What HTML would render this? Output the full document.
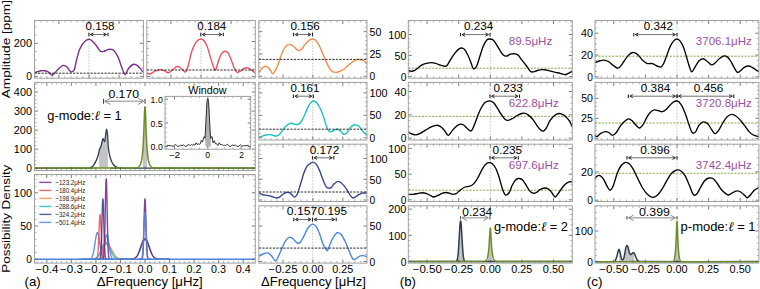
<!DOCTYPE html>
<html><head><meta charset="utf-8"><style>
html,body{margin:0;padding:0;background:#fff;width:760px;height:289px;overflow:hidden}
svg{display:block;font-family:"Liberation Sans",sans-serif}
</style></head><body>
<svg width="760" height="289" viewBox="0 0 760 289" font-family="Liberation Sans, sans-serif"><clipPath id="c1"><rect x="34.5" y="20.5" width="108.9" height="57.7"/></clipPath>
<path d="M89,20.5V78.2" stroke="#b8b8b8" stroke-width="0.8" stroke-dasharray="1.6,1.4" fill="none"/>
<path d="M34.7,72.6 C35.2,72.45 36.67,72 37.7,71.7 C38.73,71.4 39.78,70.97 40.9,70.8 C42.02,70.63 43.35,70.6 44.4,70.7 C45.45,70.8 46.27,70.95 47.2,71.4 C48.13,71.85 49.15,72.77 50,73.4 C50.85,74.03 51.45,75.33 52.3,75.2 C53.15,75.07 54.1,73.62 55.1,72.6 C56.1,71.58 57.32,70.08 58.3,69.1 C59.28,68.12 60.15,67.32 61,66.7 C61.85,66.08 62.6,65.48 63.4,65.4 C64.2,65.32 65.08,65.78 65.8,66.2 C66.52,66.62 67.12,67.22 67.7,67.9 C68.28,68.58 68.77,69.62 69.3,70.3 C69.83,70.98 70.37,71.82 70.9,72 C71.43,72.18 71.92,71.8 72.5,71.4 C73.08,71 73.73,71.48 74.4,69.6 C75.07,67.72 75.6,63.53 76.5,60.1 C77.4,56.67 78.5,52.03 79.8,49 C81.1,45.97 82.82,43.52 84.3,41.9 C85.78,40.28 87.42,39.48 88.7,39.3 C89.98,39.12 90.72,39.73 92,40.8 C93.28,41.87 95,43.97 96.4,45.7 C97.8,47.43 99.1,50.28 100.4,51.2 C101.7,52.12 102.83,51.5 104.2,51.2 C105.57,50.9 107.23,49.65 108.6,49.4 C109.97,49.15 111.28,49.22 112.4,49.7 C113.52,50.18 114.27,50.87 115.3,52.3 C116.33,53.73 117.5,55.72 118.6,58.3 C119.7,60.88 120.8,65.1 121.9,67.8 C123,70.5 124.1,74.38 125.2,74.5 C126.3,74.62 127.2,70.17 128.5,68.5 C129.8,66.83 131.7,65.1 133,64.5 C134.3,63.9 135.2,64.35 136.3,64.9 C137.4,65.45 138.45,66.57 139.6,67.8 C140.75,69.03 142.6,71.55 143.2,72.3" stroke="#7b2d8e" stroke-width="1.4" fill="none" stroke-linejoin="round" clip-path="url(#c1)"/>
<path d="M34.5,73.2H143.4" stroke="#222" stroke-width="0.95" stroke-dasharray="2.3,1.2" fill="none" clip-path="url(#c1)"/>
<path d="M34.82,78.2v-2M34.82,20.5v2M40.84,78.2v-2M40.84,20.5v2M46.86,78.2v-2M46.86,20.5v2M52.88,78.2v-2M52.88,20.5v2M64.92,78.2v-2M64.92,20.5v2M70.94,78.2v-2M70.94,20.5v2M76.96,78.2v-2M76.96,20.5v2M82.98,78.2v-2M82.98,20.5v2M95.02,78.2v-2M95.02,20.5v2M101.04,78.2v-2M101.04,20.5v2M107.06,78.2v-2M107.06,20.5v2M113.08,78.2v-2M113.08,20.5v2M125.12,78.2v-2M125.12,20.5v2M131.14,78.2v-2M131.14,20.5v2M137.16,78.2v-2M137.16,20.5v2M34.5,68.12h2M143.4,68.12h-2M34.5,59.85h2M143.4,59.85h-2M34.5,51.58h2M143.4,51.58h-2M34.5,35.03h2M143.4,35.03h-2M34.5,26.75h2M143.4,26.75h-2" stroke="#5a5a5a" stroke-width="0.6" fill="none" opacity="0.8"/>
<path d="M58.9,78.2v-3.5M58.9,20.5v3.5M89,78.2v-3.5M89,20.5v3.5M119.1,78.2v-3.5M119.1,20.5v3.5M34.5,76.4h3.5M143.4,76.4h-3.5M34.5,43.3h3.5M143.4,43.3h-3.5" stroke="#5a5a5a" stroke-width="0.8" fill="none"/>
<rect x="34.5" y="20.5" width="108.9" height="57.7" fill="none" stroke="#a0a0a0" stroke-width="1"/>
<path d="M88.9,32.8V36.2M108,32.8V36.2" stroke="#222" stroke-width="1.1" fill="none"/>
<path d="M90.5,34.5H106.4" stroke="#333" stroke-width="0.7" fill="none"/>
<path d="M93.4,32.95L90.5,34.5L93.4,36.05M103.5,32.95L106.4,34.5L103.5,36.05" stroke="#222" stroke-width="1.0" fill="none" stroke-linejoin="miter"/>
<text x="85.55" y="29.85" font-size="10.6" textLength="28.95" lengthAdjust="spacingAndGlyphs" fill="#000">0.158</text>
<clipPath id="c2"><rect x="146.8" y="20.5" width="108.5" height="57.7"/></clipPath>
<path d="M201,20.5V78.2" stroke="#b8b8b8" stroke-width="0.8" stroke-dasharray="1.6,1.4" fill="none"/>
<path d="M146.9,72.8 C147.38,73 148.58,74.2 149.8,74 C151.02,73.8 152.55,72.33 154.2,71.6 C155.85,70.87 158.05,69.75 159.7,69.6 C161.35,69.45 162.62,70.18 164.1,70.7 C165.58,71.22 167.12,72.92 168.6,72.7 C170.08,72.48 171.72,70.4 173,69.4 C174.28,68.4 175.2,67.07 176.3,66.7 C177.4,66.33 178.48,66.65 179.6,67.2 C180.72,67.75 181.97,69.23 183,70 C184.03,70.77 184.88,72.72 185.8,71.8 C186.72,70.88 187.5,67.93 188.5,64.5 C189.5,61.07 190.5,54.97 191.8,51.2 C193.1,47.43 194.82,43.93 196.3,41.9 C197.78,39.87 199.42,39.18 200.7,39 C201.98,38.82 202.9,39.5 204,40.8 C205.1,42.1 206.2,43.95 207.3,46.8 C208.4,49.65 209.6,54.65 210.6,57.9 C211.6,61.15 212.48,64.28 213.3,66.3 C214.12,68.32 214.65,70.85 215.5,70 C216.35,69.15 217.37,63.97 218.4,61.2 C219.43,58.43 220.48,55.07 221.7,53.4 C222.92,51.73 224.58,51.2 225.7,51.2 C226.82,51.2 227.4,51.73 228.4,53.4 C229.4,55.07 230.67,58.62 231.7,61.2 C232.73,63.78 233.68,67.05 234.6,68.9 C235.52,70.75 236.22,71.93 237.2,72.3 C238.18,72.67 239.38,71.73 240.5,71.1 C241.62,70.47 242.78,69.05 243.9,68.5 C245.02,67.95 246.1,67.65 247.2,67.8 C248.3,67.95 249.17,68.55 250.5,69.4 C251.83,70.25 254.42,72.32 255.2,72.9" stroke="#f0505f" stroke-width="1.4" fill="none" stroke-linejoin="round" clip-path="url(#c2)"/>
<path d="M146.8,70H255.3" stroke="#222" stroke-width="0.95" stroke-dasharray="2.3,1.2" fill="none" clip-path="url(#c2)"/>
<path d="M152.89,78.2v-2M152.89,20.5v2M158.91,78.2v-2M158.91,20.5v2M164.93,78.2v-2M164.93,20.5v2M176.97,78.2v-2M176.97,20.5v2M182.99,78.2v-2M182.99,20.5v2M189.01,78.2v-2M189.01,20.5v2M195.03,78.2v-2M195.03,20.5v2M207.07,78.2v-2M207.07,20.5v2M213.09,78.2v-2M213.09,20.5v2M219.11,78.2v-2M219.11,20.5v2M225.13,78.2v-2M225.13,20.5v2M237.17,78.2v-2M237.17,20.5v2M243.19,78.2v-2M243.19,20.5v2M249.21,78.2v-2M249.21,20.5v2M146.8,69.42h2M255.3,69.42h-2M146.8,62.44h2M255.3,62.44h-2M146.8,55.46h2M255.3,55.46h-2M146.8,48.48h2M255.3,48.48h-2M146.8,34.52h2M255.3,34.52h-2M146.8,27.54h2M255.3,27.54h-2" stroke="#5a5a5a" stroke-width="0.6" fill="none" opacity="0.8"/>
<path d="M170.95,78.2v-3.5M170.95,20.5v3.5M201.05,78.2v-3.5M201.05,20.5v3.5M231.15,78.2v-3.5M231.15,20.5v3.5M146.8,76.4h3.5M255.3,76.4h-3.5M146.8,41.5h3.5M255.3,41.5h-3.5" stroke="#5a5a5a" stroke-width="0.8" fill="none"/>
<rect x="146.8" y="20.5" width="108.5" height="57.7" fill="none" stroke="#a0a0a0" stroke-width="1"/>
<path d="M200.8,32.8V36.2M223.3,32.8V36.2" stroke="#222" stroke-width="1.1" fill="none"/>
<path d="M202.4,34.5H221.7" stroke="#333" stroke-width="0.7" fill="none"/>
<path d="M205.3,32.95L202.4,34.5L205.3,36.05M218.8,32.95L221.7,34.5L218.8,36.05" stroke="#222" stroke-width="1.0" fill="none" stroke-linejoin="miter"/>
<text x="197.35" y="29.85" font-size="10.6" textLength="28.89" lengthAdjust="spacingAndGlyphs" fill="#000">0.184</text>
<text x="13.81" y="47.37" font-size="10.1" textLength="18.17" lengthAdjust="spacingAndGlyphs" fill="#000">200</text>
<text x="26.26" y="80.47" font-size="10.1" textLength="5.7" lengthAdjust="spacingAndGlyphs" fill="#000">0</text>
<clipPath id="c3"><rect x="34.5" y="82.4" width="220.8" height="88.1"/></clipPath>
<path d="M99.2,168.1L99,152.1L99.25,150.97L99.5,150.09L99.75,149.57L100,149.06L100.25,148.54L100.5,148.02L100.75,147.5L101,146.6L101.25,145.6L101.5,144.6L101.75,143.6L102,142.6L102.25,141.7L102.5,140.87L102.75,140.03L103,139.2L103.25,139.73L103.5,140.26L103.75,140.78L104,141.18L104.25,141.37L104.5,141.57L104.75,141.76L105,140.29L105.25,138.4L105.5,136.51L105.75,134.71L106,133.27L106.25,131.82L106.5,130.38L106.75,130.67L107,132.11L107.25,133.56L107.5,135L107.75,138.78L107.9,168.1Z" fill="#c4c4c4"/>
<path d="M142.9,168.1L143,147.99L143.2,144.87L143.4,141.22L143.6,136.98L143.8,132.15L144,126.8L144.2,121.14L144.4,115.6L144.6,110.8L144.8,107.49L145,106.3L145.2,107.49L145.4,110.8L145.6,115.6L145.8,121.14L146,126.8L146.2,132.15L146.4,136.98L146.6,141.22L146.8,144.87L147,147.99L147.1,168.1Z" fill="#c4c4c4"/>
<path d="M34.5,168.1 C43.42,168.1 78.68,168.17 88,168.1 C97.32,168.03 89.55,168.07 90.4,167.7 C91.25,167.33 92.2,166.95 93.1,165.9 C94,164.85 94.98,163.05 95.8,161.4 C96.62,159.75 97.4,157.95 98,156 C98.6,154.05 98.93,151.23 99.4,149.7 C99.87,148.17 100.35,148.15 100.8,146.8 C101.25,145.45 101.73,142.97 102.1,141.6 C102.47,140.23 102.7,138.78 103,138.6 C103.3,138.42 103.6,140.07 103.9,140.5 C104.2,140.93 104.5,142.22 104.8,141.2 C105.1,140.18 105.4,136.4 105.7,134.4 C106,132.4 106.3,129.2 106.6,129.2 C106.9,129.2 107.2,131.27 107.5,134.4 C107.8,137.53 108.02,144.4 108.4,148 C108.78,151.6 109.27,153.77 109.8,156 C110.33,158.23 110.93,159.9 111.6,161.4 C112.27,162.9 112.98,164.05 113.8,165 C114.62,165.95 115.6,166.62 116.5,167.1 C117.4,167.58 118.28,167.73 119.2,167.9 C120.12,168.07 99.32,168.07 122,168.1 C144.68,168.13 233.08,168.1 255.3,168.1" stroke="#2c3e50" stroke-width="1.3" fill="none" stroke-linejoin="round" clip-path="url(#c3)"/>
<path d="M34.5,168.1 L34.5,168.1 L136,168.1 L136.2,168.1 L136.4,168.1 L136.6,168.06 L136.8,167.97 L137,167.88 L137.2,167.77 L137.4,167.66 L137.6,167.55 L137.8,167.42 L138,167.28 L138.2,167.13 L138.4,166.97 L138.6,166.79 L138.8,166.6 L139,166.39 L139.2,166.16 L139.4,165.9 L139.6,165.62 L139.8,165.31 L140,164.96 L140.2,164.58 L140.4,164.15 L140.6,163.67 L140.8,163.13 L141,162.51 L141.2,161.82 L141.4,161.02 L141.6,160.11 L141.8,159.06 L142,157.85 L142.2,156.45 L142.4,154.81 L142.6,152.89 L142.8,150.64 L143,147.99 L143.2,144.87 L143.4,141.22 L143.6,136.98 L143.8,132.15 L144,126.8 L144.2,121.14 L144.4,115.6 L144.6,110.8 L144.8,107.49 L145,106.3 L145.2,107.49 L145.4,110.8 L145.6,115.6 L145.8,121.14 L146,126.8 L146.2,132.15 L146.4,136.98 L146.6,141.22 L146.8,144.87 L147,147.99 L147.2,150.64 L147.4,152.89 L147.6,154.81 L147.8,156.45 L148,157.85 L148.2,159.06 L148.4,160.11 L148.6,161.02 L148.8,161.82 L149,162.51 L149.2,163.13 L149.4,163.67 L149.6,164.15 L149.8,164.58 L150,164.96 L150.2,165.31 L150.4,165.62 L150.6,165.9 L150.8,166.16 L151,166.39 L151.2,166.6 L151.4,166.79 L151.6,166.97 L151.8,167.13 L152,167.28 L152.2,167.42 L152.4,167.55 L152.6,167.66 L152.8,167.77 L153,167.88 L153.2,167.97 L153.4,168.06 L153.6,168.1 L153.8,168.1 L154,168.1 L255.3,168.1" stroke="#6b8e23" stroke-width="1.5" fill="none" clip-path="url(#c3)"/>
<path d="M36.98,170.5v-2M36.98,82.4v2M41.89,170.5v-2M41.89,82.4v2M51.71,170.5v-2M51.71,82.4v2M56.62,170.5v-2M56.62,82.4v2M61.53,170.5v-2M61.53,82.4v2M66.44,170.5v-2M66.44,82.4v2M76.26,170.5v-2M76.26,82.4v2M81.17,170.5v-2M81.17,82.4v2M86.08,170.5v-2M86.08,82.4v2M90.99,170.5v-2M90.99,82.4v2M100.81,170.5v-2M100.81,82.4v2M105.72,170.5v-2M105.72,82.4v2M110.63,170.5v-2M110.63,82.4v2M115.54,170.5v-2M115.54,82.4v2M125.36,170.5v-2M125.36,82.4v2M130.27,170.5v-2M130.27,82.4v2M135.18,170.5v-2M135.18,82.4v2M140.09,170.5v-2M140.09,82.4v2M149.91,170.5v-2M149.91,82.4v2M154.82,170.5v-2M154.82,82.4v2M159.73,170.5v-2M159.73,82.4v2M164.64,170.5v-2M164.64,82.4v2M174.46,170.5v-2M174.46,82.4v2M179.37,170.5v-2M179.37,82.4v2M184.28,170.5v-2M184.28,82.4v2M189.19,170.5v-2M189.19,82.4v2M199.01,170.5v-2M199.01,82.4v2M203.92,170.5v-2M203.92,82.4v2M208.83,170.5v-2M208.83,82.4v2M213.74,170.5v-2M213.74,82.4v2M223.56,170.5v-2M223.56,82.4v2M228.47,170.5v-2M228.47,82.4v2M233.38,170.5v-2M233.38,82.4v2M238.29,170.5v-2M238.29,82.4v2M248.11,170.5v-2M248.11,82.4v2M253.02,170.5v-2M253.02,82.4v2M34.5,164.44h2M255.3,164.44h-2M34.5,160.63h2M255.3,160.63h-2M34.5,156.81h2M255.3,156.81h-2M34.5,153h2M255.3,153h-2M34.5,145.38h2M255.3,145.38h-2M34.5,141.57h2M255.3,141.57h-2M34.5,137.75h2M255.3,137.75h-2M34.5,133.94h2M255.3,133.94h-2M34.5,126.32h2M255.3,126.32h-2M34.5,122.51h2M255.3,122.51h-2M34.5,118.69h2M255.3,118.69h-2M34.5,114.88h2M255.3,114.88h-2M34.5,107.26h2M255.3,107.26h-2M34.5,103.45h2M255.3,103.45h-2M34.5,99.63h2M255.3,99.63h-2M34.5,95.82h2M255.3,95.82h-2M34.5,88.2h2M255.3,88.2h-2M34.5,84.39h2M255.3,84.39h-2" stroke="#5a5a5a" stroke-width="0.6" fill="none" opacity="0.8"/>
<path d="M46.8,170.5v-3.5M46.8,82.4v3.5M71.35,170.5v-3.5M71.35,82.4v3.5M95.9,170.5v-3.5M95.9,82.4v3.5M120.45,170.5v-3.5M120.45,82.4v3.5M145,170.5v-3.5M145,82.4v3.5M169.55,170.5v-3.5M169.55,82.4v3.5M194.1,170.5v-3.5M194.1,82.4v3.5M218.65,170.5v-3.5M218.65,82.4v3.5M243.2,170.5v-3.5M243.2,82.4v3.5M34.5,168.25h3.5M255.3,168.25h-3.5M34.5,149.19h3.5M255.3,149.19h-3.5M34.5,130.13h3.5M255.3,130.13h-3.5M34.5,111.07h3.5M255.3,111.07h-3.5M34.5,92.01h3.5M255.3,92.01h-3.5" stroke="#5a5a5a" stroke-width="0.8" fill="none"/>
<rect x="34.5" y="82.4" width="220.8" height="88.1" fill="none" stroke="#a0a0a0" stroke-width="1"/>
<text x="13.87" y="96.07" font-size="10.1" textLength="18.11" lengthAdjust="spacingAndGlyphs" fill="#000">400</text>
<text x="13.98" y="114.97" font-size="10.1" textLength="18" lengthAdjust="spacingAndGlyphs" fill="#000">300</text>
<text x="13.81" y="133.67" font-size="10.1" textLength="18.17" lengthAdjust="spacingAndGlyphs" fill="#000">200</text>
<text x="13.89" y="152.57" font-size="10.1" textLength="18.09" lengthAdjust="spacingAndGlyphs" fill="#000">100</text>
<text x="26.26" y="172.37" font-size="10.1" textLength="5.7" lengthAdjust="spacingAndGlyphs" fill="#000">0</text>
<path d="M103.6,98.8V103.8M145,98.8V103.8" stroke="#333" stroke-width="1.0" fill="none"/>
<path d="M104.9,101.3H143.7" stroke="#b0b0b0" stroke-width="1.4" fill="none"/>
<path d="M110.4,98.2L104.9,101.3L110.4,104.4M138.2,98.2L143.7,101.3L138.2,104.4" stroke="#7a7a7a" stroke-width="0.9" fill="none"/>
<text x="108.42" y="97.55" font-size="11.2" textLength="30.66" lengthAdjust="spacingAndGlyphs" fill="#000">0.170</text>
<text x="47.3" y="120.2" font-size="13.2" textLength="74.5" lengthAdjust="spacingAndGlyphs">g-mode:<tspan font-family="Liberation Serif" font-style="italic">ℓ</tspan> = 1</text>
<rect x="165.0" y="96.4" width="85.7" height="52.8" fill="#fff"/>
<clipPath id="c4"><rect x="165" y="96.4" width="85.7" height="52.8"/></clipPath>
<path d="M205.5,146.6L205,138.2L205.3,133.5L205.7,126L206.1,117.5L206.5,109.5L206.9,103L207.3,99.6L207.7,98.6L208.1,99L208.5,101.5L208.9,107L209.3,114.5L209.7,123L210.1,130.5L210.5,136L210.8,138.5L210.8,146.6Z" fill="#b0b0b0" clip-path="url(#c4)"/>
<path d="M165,146.6 L166.1,146.3 L167.5,145.4 L168.8,145.6 L170.2,145.6 L171.6,145.8 L173.3,146.3 L174,145.4 L175.4,144.7 L176.8,145.6 L177.8,146.5 L179.2,146 L180.6,145.2 L182,145.6 L183.4,144.9 L184.7,145.8 L186.1,146.5 L187.2,145.9 L188.3,144.2 L189.6,145.1 L190.6,145.4 L191.7,144.5 L192.7,145.4 L193.7,144.2 L194.8,145.2 L196.2,142.8 L197.2,144.5 L198.2,143.8 L199.3,144.4 L200.3,143.8 L201.3,140.4 L202.4,142.1 L203.4,139 L204.1,136.6 L204.8,137.6 L205,138.2 L205.3,133.5 L205.7,126 L206.1,117.5 L206.5,109.5 L206.9,103 L207.3,99.6 L207.7,98.6 L208.1,99 L208.5,101.5 L208.9,107 L209.3,114.5 L209.7,123 L210.1,130.5 L210.5,136 L210.8,138.5 L211.2,137.3 L212.1,136.6 L213,142.8 L214.3,140.7 L215.4,143.8 L216.4,143.5 L217.8,145.6 L219.2,142.8 L220.6,144.9 L221.9,144.2 L223.3,145.6 L224.7,145.2 L225.7,145.6 L227.5,144.2 L229.6,146.6 L230.9,146.3 L232.3,144.9 L234,145.6 L235.4,145.1 L236.8,146.3 L238.5,146.5 L240.3,144.7 L242,146.3 L243.7,145.6 L245.8,145.8 L247.9,145.4 L249.6,146.6 L251,146.3" stroke="#1a1a1a" stroke-width="0.9" fill="none" stroke-linejoin="round" clip-path="url(#c4)"/>
<path d="M166.18,149.2v-1.7M166.18,96.4v1.7M182.83,149.2v-1.7M182.83,96.4v1.7M191.15,149.2v-1.7M191.15,96.4v1.7M199.48,149.2v-1.7M199.48,96.4v1.7M216.12,149.2v-1.7M216.12,96.4v1.7M224.45,149.2v-1.7M224.45,96.4v1.7M232.78,149.2v-1.7M232.78,96.4v1.7M249.43,149.2v-1.7M249.43,96.4v1.7M165,141.87h1.7M250.7,141.87h-1.7M165,137.14h1.7M250.7,137.14h-1.7M165,132.41h1.7M250.7,132.41h-1.7M165,127.68h1.7M250.7,127.68h-1.7M165,118.22h1.7M250.7,118.22h-1.7M165,113.49h1.7M250.7,113.49h-1.7M165,108.76h1.7M250.7,108.76h-1.7M165,104.03h1.7M250.7,104.03h-1.7" stroke="#5a5a5a" stroke-width="0.6" fill="none" opacity="0.8"/>
<path d="M174.5,149.2v-3M174.5,96.4v3M207.8,149.2v-3M207.8,96.4v3M241.1,149.2v-3M241.1,96.4v3M165,146.6h3M250.7,146.6h-3M165,122.95h3M250.7,122.95h-3M165,99.3h3M250.7,99.3h-3" stroke="#5a5a5a" stroke-width="0.8" fill="none"/>
<rect x="165" y="96.4" width="85.7" height="52.8" fill="none" stroke="#a0a0a0" stroke-width="1"/>
<text x="150.64" y="102.66" font-size="8.3" textLength="12.18" lengthAdjust="spacingAndGlyphs" fill="#000">1.0</text>
<text x="150.62" y="126.56" font-size="8.3" textLength="12.06" lengthAdjust="spacingAndGlyphs" fill="#000">0.5</text>
<text x="150.61" y="150.16" font-size="8.3" textLength="12.2" lengthAdjust="spacingAndGlyphs" fill="#000">0.0</text>
<text x="168.66" y="158.23" font-size="8.8" textLength="11.53" lengthAdjust="spacingAndGlyphs" fill="#000">−2</text>
<text x="205.36" y="158.23" font-size="8.8" textLength="4.87" lengthAdjust="spacingAndGlyphs" fill="#000">0</text>
<text x="239.14" y="158.23" font-size="8.8" textLength="4.69" lengthAdjust="spacingAndGlyphs" fill="#000">2</text>
<text x="188.35" y="93.58" font-size="10.4" textLength="38.14" lengthAdjust="spacingAndGlyphs" fill="#000">Window</text>
<clipPath id="c5"><rect x="34.5" y="174.5" width="220.8" height="88.6"/></clipPath>
<path d="M77.4,259.3 L77.6,259.3 L77.8,259.3 L78,259.3 L78.2,259.3 L78.4,259.3 L78.6,259.3 L78.8,259.3 L79,259.3 L79.2,259.3 L79.4,259.3 L79.6,259.3 L79.8,259.3 L80,259.3 L80.2,259.3 L80.4,259.3 L80.6,259.3 L80.8,259.3 L81,259.3 L81.2,259.3 L81.4,259.3 L81.6,259.3 L81.8,259.3 L82,259.3 L82.2,259.3 L82.4,259.3 L82.6,259.3 L82.8,259.3 L83,259.3 L83.2,259.3 L83.4,259.3 L83.6,259.3 L83.8,259.3 L84,259.3 L84.2,259.3 L84.4,259.3 L84.6,259.3 L84.8,259.3 L85,259.3 L85.2,259.3 L85.4,259.3 L85.6,259.3 L85.8,259.3 L86,259.3 L86.2,259.3 L86.4,259.3 L86.6,259.3 L86.8,259.3 L87,259.3 L87.2,259.29 L87.4,259.29 L87.6,259.29 L87.8,259.29 L88,259.29 L88.2,259.29 L88.4,259.29 L88.6,259.28 L88.8,259.28 L89,259.28 L89.2,259.28 L89.4,259.27 L89.6,259.27 L89.8,259.26 L90,259.26 L90.2,259.25 L90.4,259.24 L90.6,259.23 L90.8,259.23 L91,259.21 L91.2,259.2 L91.4,259.19 L91.6,259.17 L91.8,259.16 L92,259.14 L92.2,259.12 L92.4,259.09 L92.6,259.07 L92.8,259.04 L93,259.01 L93.2,258.97 L93.4,258.93 L93.6,258.89 L93.8,258.84 L94,258.79 L94.2,258.73 L94.4,258.67 L94.6,258.6 L94.8,258.53 L95,258.45 L95.2,258.36 L95.4,258.26 L95.6,258.16 L95.8,258.05 L96,257.93 L96.2,257.81 L96.4,257.67 L96.6,257.52 L96.8,257.37 L97,257.2 L97.2,257.03 L97.4,256.84 L97.6,256.64 L97.8,256.43 L98,256.21 L98.2,255.98 L98.4,255.73 L98.6,255.48 L98.8,255.21 L99,254.93 L99.2,254.64 L99.4,254.34 L99.6,254.03 L99.8,253.71 L100,253.38 L100.2,253.04 L100.4,252.69 L100.6,252.34 L100.8,251.98 L101,251.61 L101.2,251.23 L101.4,250.85 L101.6,250.47 L101.8,250.09 L102,249.71 L102.2,249.32 L102.4,248.94 L102.6,248.57 L102.8,248.19 L103,247.83 L103.2,247.47 L103.4,247.12 L103.6,246.78 L103.8,246.45 L104,246.13 L104.2,245.84 L104.4,245.55 L104.6,245.29 L104.8,245.04 L105,244.81 L105.2,244.6 L105.4,244.42 L105.6,244.26 L105.8,244.12 L106,244.01 L106.2,243.92 L106.4,243.85 L106.6,243.81 L106.8,243.8 L107,243.81 L107.2,243.85 L107.4,243.92 L107.6,244.01 L107.8,244.12 L108,244.26 L108.2,244.42 L108.4,244.6 L108.6,244.81 L108.8,245.04 L109,245.29 L109.2,245.55 L109.4,245.84 L109.6,246.13 L109.8,246.45 L110,246.78 L110.2,247.12 L110.4,247.47 L110.6,247.83 L110.8,248.19 L111,248.57 L111.2,248.94 L111.4,249.32 L111.6,249.71 L111.8,250.09 L112,250.47 L112.2,250.85 L112.4,251.23 L112.6,251.61 L112.8,251.98 L113,252.34 L113.2,252.69 L113.4,253.04 L113.6,253.38 L113.8,253.71 L114,254.03 L114.2,254.34 L114.4,254.64 L114.6,254.93 L114.8,255.21 L115,255.48 L115.2,255.73 L115.4,255.98 L115.6,256.21 L115.8,256.43 L116,256.64 L116.2,256.84 L116.4,257.03 L116.6,257.2 L116.8,257.37 L117,257.52 L117.2,257.67 L117.4,257.81 L117.6,257.93 L117.8,258.05 L118,258.16 L118.2,258.26 L118.4,258.36 L118.6,258.45 L118.8,258.53 L119,258.6 L119.2,258.67 L119.4,258.73 L119.6,258.79 L119.8,258.84 L120,258.89 L120.2,258.93 L120.4,258.97 L120.6,259.01 L120.8,259.04 L121,259.07 L121.2,259.09 L121.4,259.12 L121.6,259.14 L121.8,259.16 L122,259.17 L122.2,259.19 L122.4,259.2 L122.6,259.21 L122.8,259.23 L123,259.23 L123.2,259.24 L123.4,259.25 L123.6,259.26 L123.8,259.26 L124,259.27 L124.2,259.27 L124.4,259.28 L124.6,259.28 L124.8,259.28 L125,259.28 L125.2,259.29 L125.4,259.29 L125.6,259.29 L125.8,259.29 L126,259.29 L126.2,259.29 L126.4,259.29 L126.6,259.3 L126.8,259.3 L127,259.3 L127.2,259.3 L127.4,259.3 L127.6,259.3 L127.8,259.3 L128,259.3 L128.2,259.3 L128.4,259.3 L128.6,259.3 L128.8,259.3 L129,259.3 L129.2,259.3 L129.4,259.3 L129.6,259.3 L129.8,259.3 L130,259.3 L130.2,259.3 L130.4,259.3 L130.6,259.3 L130.8,259.3 L131,259.3 L131.2,259.3 L131.4,259.3 L131.6,259.3 L131.8,259.3 L132,259.3 L132.2,259.3 L132.4,259.3 L132.6,259.3 L132.8,259.3 L133,259.3 L133.2,259.3 L133.4,259.3 L133.6,259.3 L133.8,259.3 L134,259.3 L134.2,259.3 L134.4,259.3 L134.6,259.3 L134.8,259.3 L135,259.3 L135.2,259.3 L135.4,259.3 L135.6,259.3 L135.8,259.3 L136,259.3 L136.2,259.3" stroke="#f78a4a" stroke-width="1.4" fill="none" stroke-linejoin="round" opacity="0.9" clip-path="url(#c5)"/>
<path d="M80.1,259.3 L80.3,259.3 L80.5,259.3 L80.7,259.3 L80.9,259.3 L81.1,259.3 L81.3,259.3 L81.5,259.3 L81.7,259.3 L81.9,259.3 L82.1,259.3 L82.3,259.3 L82.5,259.3 L82.7,259.3 L82.9,259.3 L83.1,259.3 L83.3,259.3 L83.5,259.3 L83.7,259.3 L83.9,259.3 L84.1,259.3 L84.3,259.3 L84.5,259.3 L84.7,259.3 L84.9,259.3 L85.1,259.3 L85.3,259.3 L85.5,259.3 L85.7,259.3 L85.9,259.3 L86.1,259.3 L86.3,259.3 L86.5,259.3 L86.7,259.3 L86.9,259.3 L87.1,259.3 L87.3,259.3 L87.5,259.3 L87.7,259.3 L87.9,259.3 L88.1,259.3 L88.3,259.3 L88.5,259.3 L88.7,259.29 L88.9,259.29 L89.1,259.29 L89.3,259.29 L89.5,259.29 L89.7,259.29 L89.9,259.28 L90.1,259.28 L90.3,259.28 L90.5,259.27 L90.7,259.27 L90.9,259.26 L91.1,259.26 L91.3,259.25 L91.5,259.24 L91.7,259.23 L91.9,259.22 L92.1,259.2 L92.3,259.19 L92.5,259.17 L92.7,259.15 L92.9,259.13 L93.1,259.1 L93.3,259.07 L93.5,259.04 L93.7,259 L93.9,258.96 L94.1,258.91 L94.3,258.86 L94.5,258.8 L94.7,258.74 L94.9,258.67 L95.1,258.59 L95.3,258.5 L95.5,258.4 L95.7,258.3 L95.9,258.18 L96.1,258.06 L96.3,257.92 L96.5,257.77 L96.7,257.61 L96.9,257.43 L97.1,257.24 L97.3,257.04 L97.5,256.82 L97.7,256.59 L97.9,256.34 L98.1,256.08 L98.3,255.8 L98.5,255.5 L98.7,255.19 L98.9,254.86 L99.1,254.52 L99.3,254.16 L99.5,253.78 L99.7,253.39 L99.9,252.99 L100.1,252.58 L100.3,252.15 L100.5,251.71 L100.7,251.26 L100.9,250.81 L101.1,250.34 L101.3,249.88 L101.5,249.41 L101.7,248.94 L101.9,248.47 L102.1,248 L102.3,247.54 L102.5,247.08 L102.7,246.64 L102.9,246.21 L103.1,245.79 L103.3,245.39 L103.5,245.01 L103.7,244.65 L103.9,244.31 L104.1,244 L104.3,243.72 L104.5,243.46 L104.7,243.24 L104.9,243.05 L105.1,242.89 L105.3,242.76 L105.5,242.67 L105.7,242.62 L105.9,242.6 L106.1,242.62 L106.3,242.67 L106.5,242.76 L106.7,242.89 L106.9,243.05 L107.1,243.24 L107.3,243.46 L107.5,243.72 L107.7,244 L107.9,244.31 L108.1,244.65 L108.3,245.01 L108.5,245.39 L108.7,245.79 L108.9,246.21 L109.1,246.64 L109.3,247.08 L109.5,247.54 L109.7,248 L109.9,248.47 L110.1,248.94 L110.3,249.41 L110.5,249.88 L110.7,250.34 L110.9,250.81 L111.1,251.26 L111.3,251.71 L111.5,252.15 L111.7,252.58 L111.9,252.99 L112.1,253.39 L112.3,253.78 L112.5,254.16 L112.7,254.52 L112.9,254.86 L113.1,255.19 L113.3,255.5 L113.5,255.8 L113.7,256.08 L113.9,256.34 L114.1,256.59 L114.3,256.82 L114.5,257.04 L114.7,257.24 L114.9,257.43 L115.1,257.61 L115.3,257.77 L115.5,257.92 L115.7,258.06 L115.9,258.18 L116.1,258.3 L116.3,258.4 L116.5,258.5 L116.7,258.59 L116.9,258.67 L117.1,258.74 L117.3,258.8 L117.5,258.86 L117.7,258.91 L117.9,258.96 L118.1,259 L118.3,259.04 L118.5,259.07 L118.7,259.1 L118.9,259.13 L119.1,259.15 L119.3,259.17 L119.5,259.19 L119.7,259.2 L119.9,259.22 L120.1,259.23 L120.3,259.24 L120.5,259.25 L120.7,259.26 L120.9,259.26 L121.1,259.27 L121.3,259.27 L121.5,259.28 L121.7,259.28 L121.9,259.28 L122.1,259.29 L122.3,259.29 L122.5,259.29 L122.7,259.29 L122.9,259.29 L123.1,259.29 L123.3,259.3 L123.5,259.3 L123.7,259.3 L123.9,259.3 L124.1,259.3 L124.3,259.3 L124.5,259.3 L124.7,259.3 L124.9,259.3 L125.1,259.3 L125.3,259.3 L125.5,259.3 L125.7,259.3 L125.9,259.3 L126.1,259.3 L126.3,259.3 L126.5,259.3 L126.7,259.3 L126.9,259.3 L127.1,259.3 L127.3,259.3 L127.5,259.3 L127.7,259.3 L127.9,259.3 L128.1,259.3 L128.3,259.3 L128.5,259.3 L128.7,259.3 L128.9,259.3 L129.1,259.3 L129.3,259.3 L129.5,259.3 L129.7,259.3 L129.9,259.3 L130.1,259.3 L130.3,259.3 L130.5,259.3 L130.7,259.3 L130.9,259.3 L131.1,259.3 L131.3,259.3 L131.5,259.3 L131.7,259.3" stroke="#1ec0c4" stroke-width="1.4" fill="none" stroke-linejoin="round" opacity="0.9" clip-path="url(#c5)"/>
<path d="M119.8,259.3 L120,259.3 L120.2,259.3 L120.4,259.3 L120.6,259.3 L120.8,259.3 L121,259.3 L121.2,259.3 L121.4,259.3 L121.6,259.3 L121.8,259.3 L122,259.3 L122.2,259.3 L122.4,259.3 L122.6,259.3 L122.8,259.3 L123,259.3 L123.2,259.3 L123.4,259.3 L123.6,259.3 L123.8,259.3 L124,259.3 L124.2,259.3 L124.4,259.3 L124.6,259.3 L124.8,259.3 L125,259.3 L125.2,259.3 L125.4,259.3 L125.6,259.3 L125.8,259.3 L126,259.3 L126.2,259.3 L126.4,259.3 L126.6,259.3 L126.8,259.3 L127,259.3 L127.2,259.3 L127.4,259.3 L127.6,259.3 L127.8,259.3 L128,259.29 L128.2,259.29 L128.4,259.29 L128.6,259.29 L128.8,259.29 L129,259.29 L129.2,259.28 L129.4,259.28 L129.6,259.27 L129.8,259.27 L130,259.26 L130.2,259.26 L130.4,259.25 L130.6,259.24 L130.8,259.23 L131,259.22 L131.2,259.21 L131.4,259.19 L131.6,259.17 L131.8,259.15 L132,259.13 L132.2,259.1 L132.4,259.07 L132.6,259.03 L132.8,258.99 L133,258.95 L133.2,258.9 L133.4,258.84 L133.6,258.77 L133.8,258.7 L134,258.62 L134.2,258.53 L134.4,258.44 L134.6,258.33 L134.8,258.2 L135,258.07 L135.2,257.93 L135.4,257.77 L135.6,257.59 L135.8,257.4 L136,257.2 L136.2,256.97 L136.4,256.73 L136.6,256.47 L136.8,256.19 L137,255.89 L137.2,255.57 L137.4,255.23 L137.6,254.87 L137.8,254.49 L138,254.09 L138.2,253.66 L138.4,253.22 L138.6,252.75 L138.8,252.27 L139,251.77 L139.2,251.25 L139.4,250.71 L139.6,250.15 L139.8,249.59 L140,249.01 L140.2,248.42 L140.4,247.83 L140.6,247.23 L140.8,246.62 L141,246.02 L141.2,245.42 L141.4,244.83 L141.6,244.24 L141.8,243.67 L142,243.11 L142.2,242.56 L142.4,242.04 L142.6,241.55 L142.8,241.08 L143,240.64 L143.2,240.23 L143.4,239.86 L143.6,239.53 L143.8,239.24 L144,238.98 L144.2,238.78 L144.4,238.61 L144.6,238.49 L144.8,238.42 L145,238.4 L145.2,238.42 L145.4,238.49 L145.6,238.61 L145.8,238.78 L146,238.98 L146.2,239.24 L146.4,239.53 L146.6,239.86 L146.8,240.23 L147,240.64 L147.2,241.08 L147.4,241.55 L147.6,242.04 L147.8,242.56 L148,243.11 L148.2,243.67 L148.4,244.24 L148.6,244.83 L148.8,245.42 L149,246.02 L149.2,246.62 L149.4,247.23 L149.6,247.83 L149.8,248.42 L150,249.01 L150.2,249.59 L150.4,250.15 L150.6,250.71 L150.8,251.25 L151,251.77 L151.2,252.27 L151.4,252.75 L151.6,253.22 L151.8,253.66 L152,254.09 L152.2,254.49 L152.4,254.87 L152.6,255.23 L152.8,255.57 L153,255.89 L153.2,256.19 L153.4,256.47 L153.6,256.73 L153.8,256.97 L154,257.2 L154.2,257.4 L154.4,257.59 L154.6,257.77 L154.8,257.93 L155,258.07 L155.2,258.2 L155.4,258.33 L155.6,258.44 L155.8,258.53 L156,258.62 L156.2,258.7 L156.4,258.77 L156.6,258.84 L156.8,258.9 L157,258.95 L157.2,258.99 L157.4,259.03 L157.6,259.07 L157.8,259.1 L158,259.13 L158.2,259.15 L158.4,259.17 L158.6,259.19 L158.8,259.21 L159,259.22 L159.2,259.23 L159.4,259.24 L159.6,259.25 L159.8,259.26 L160,259.26 L160.2,259.27 L160.4,259.27 L160.6,259.28 L160.8,259.28 L161,259.29 L161.2,259.29 L161.4,259.29 L161.6,259.29 L161.8,259.29 L162,259.29 L162.2,259.3 L162.4,259.3 L162.6,259.3 L162.8,259.3 L163,259.3 L163.2,259.3 L163.4,259.3 L163.6,259.3 L163.8,259.3 L164,259.3 L164.2,259.3 L164.4,259.3 L164.6,259.3 L164.8,259.3 L165,259.3 L165.2,259.3 L165.4,259.3 L165.6,259.3 L165.8,259.3 L166,259.3 L166.2,259.3 L166.4,259.3 L166.6,259.3 L166.8,259.3 L167,259.3 L167.2,259.3 L167.4,259.3 L167.6,259.3 L167.8,259.3 L168,259.3 L168.2,259.3 L168.4,259.3 L168.6,259.3 L168.8,259.3 L169,259.3 L169.2,259.3 L169.4,259.3 L169.6,259.3 L169.8,259.3 L170,259.3 L170.2,259.3" stroke="#f0505f" stroke-width="1.4" fill="none" stroke-linejoin="round" opacity="0.9" clip-path="url(#c5)"/>
<path d="M119.8,259.3 L120,259.3 L120.2,259.3 L120.4,259.3 L120.6,259.3 L120.8,259.3 L121,259.3 L121.2,259.3 L121.4,259.3 L121.6,259.3 L121.8,259.3 L122,259.3 L122.2,259.3 L122.4,259.3 L122.6,259.3 L122.8,259.3 L123,259.3 L123.2,259.3 L123.4,259.3 L123.6,259.3 L123.8,259.3 L124,259.3 L124.2,259.3 L124.4,259.3 L124.6,259.3 L124.8,259.3 L125,259.3 L125.2,259.3 L125.4,259.3 L125.6,259.3 L125.8,259.3 L126,259.3 L126.2,259.3 L126.4,259.3 L126.6,259.3 L126.8,259.3 L127,259.3 L127.2,259.3 L127.4,259.3 L127.6,259.3 L127.8,259.3 L128,259.29 L128.2,259.29 L128.4,259.29 L128.6,259.29 L128.8,259.29 L129,259.29 L129.2,259.28 L129.4,259.28 L129.6,259.28 L129.8,259.27 L130,259.27 L130.2,259.26 L130.4,259.25 L130.6,259.24 L130.8,259.23 L131,259.22 L131.2,259.21 L131.4,259.19 L131.6,259.18 L131.8,259.16 L132,259.13 L132.2,259.11 L132.4,259.08 L132.6,259.05 L132.8,259.01 L133,258.96 L133.2,258.92 L133.4,258.86 L133.6,258.8 L133.8,258.73 L134,258.66 L134.2,258.57 L134.4,258.48 L134.6,258.37 L134.8,258.26 L135,258.13 L135.2,257.99 L135.4,257.84 L135.6,257.67 L135.8,257.49 L136,257.3 L136.2,257.08 L136.4,256.85 L136.6,256.61 L136.8,256.34 L137,256.06 L137.2,255.75 L137.4,255.43 L137.6,255.09 L137.8,254.72 L138,254.34 L138.2,253.93 L138.4,253.51 L138.6,253.07 L138.8,252.61 L139,252.13 L139.2,251.63 L139.4,251.12 L139.6,250.59 L139.8,250.05 L140,249.5 L140.2,248.94 L140.4,248.38 L140.6,247.8 L140.8,247.23 L141,246.66 L141.2,246.08 L141.4,245.52 L141.6,244.96 L141.8,244.41 L142,243.88 L142.2,243.37 L142.4,242.87 L142.6,242.4 L142.8,241.95 L143,241.53 L143.2,241.15 L143.4,240.79 L143.6,240.48 L143.8,240.2 L144,239.96 L144.2,239.76 L144.4,239.6 L144.6,239.49 L144.8,239.42 L145,239.4 L145.2,239.42 L145.4,239.49 L145.6,239.6 L145.8,239.76 L146,239.96 L146.2,240.2 L146.4,240.48 L146.6,240.79 L146.8,241.15 L147,241.53 L147.2,241.95 L147.4,242.4 L147.6,242.87 L147.8,243.37 L148,243.88 L148.2,244.41 L148.4,244.96 L148.6,245.52 L148.8,246.08 L149,246.66 L149.2,247.23 L149.4,247.8 L149.6,248.38 L149.8,248.94 L150,249.5 L150.2,250.05 L150.4,250.59 L150.6,251.12 L150.8,251.63 L151,252.13 L151.2,252.61 L151.4,253.07 L151.6,253.51 L151.8,253.93 L152,254.34 L152.2,254.72 L152.4,255.09 L152.6,255.43 L152.8,255.75 L153,256.06 L153.2,256.34 L153.4,256.61 L153.6,256.85 L153.8,257.08 L154,257.3 L154.2,257.49 L154.4,257.67 L154.6,257.84 L154.8,257.99 L155,258.13 L155.2,258.26 L155.4,258.37 L155.6,258.48 L155.8,258.57 L156,258.66 L156.2,258.73 L156.4,258.8 L156.6,258.86 L156.8,258.92 L157,258.96 L157.2,259.01 L157.4,259.05 L157.6,259.08 L157.8,259.11 L158,259.13 L158.2,259.16 L158.4,259.18 L158.6,259.19 L158.8,259.21 L159,259.22 L159.2,259.23 L159.4,259.24 L159.6,259.25 L159.8,259.26 L160,259.27 L160.2,259.27 L160.4,259.28 L160.6,259.28 L160.8,259.28 L161,259.29 L161.2,259.29 L161.4,259.29 L161.6,259.29 L161.8,259.29 L162,259.29 L162.2,259.3 L162.4,259.3 L162.6,259.3 L162.8,259.3 L163,259.3 L163.2,259.3 L163.4,259.3 L163.6,259.3 L163.8,259.3 L164,259.3 L164.2,259.3 L164.4,259.3 L164.6,259.3 L164.8,259.3 L165,259.3 L165.2,259.3 L165.4,259.3 L165.6,259.3 L165.8,259.3 L166,259.3 L166.2,259.3 L166.4,259.3 L166.6,259.3 L166.8,259.3 L167,259.3 L167.2,259.3 L167.4,259.3 L167.6,259.3 L167.8,259.3 L168,259.3 L168.2,259.3 L168.4,259.3 L168.6,259.3 L168.8,259.3 L169,259.3 L169.2,259.3 L169.4,259.3 L169.6,259.3 L169.8,259.3 L170,259.3 L170.2,259.3" stroke="#36478f" stroke-width="1.4" fill="none" stroke-linejoin="round" opacity="0.9" clip-path="url(#c5)"/>
<path d="M83,259.3 L83.2,259.3 L83.4,259.3 L83.6,259.3 L83.8,259.3 L84,259.3 L84.2,259.3 L84.4,259.3 L84.6,259.3 L84.8,259.3 L85,259.3 L85.2,259.3 L85.4,259.3 L85.6,259.3 L85.8,259.3 L86,259.3 L86.2,259.3 L86.4,259.3 L86.6,259.3 L86.8,259.3 L87,259.3 L87.2,259.3 L87.4,259.3 L87.6,259.29 L87.8,259.29 L88,259.29 L88.2,259.28 L88.4,259.28 L88.6,259.27 L88.8,259.26 L89,259.24 L89.2,259.22 L89.4,259.2 L89.6,259.16 L89.8,259.12 L90,259.07 L90.2,259 L90.4,258.92 L90.6,258.82 L90.8,258.69 L91,258.54 L91.2,258.35 L91.4,258.13 L91.6,257.86 L91.8,257.55 L92,257.18 L92.2,256.75 L92.4,256.25 L92.6,255.69 L92.8,255.05 L93,254.33 L93.2,253.53 L93.4,252.64 L93.6,251.68 L93.8,250.63 L94,249.51 L94.2,248.32 L94.4,247.08 L94.6,245.78 L94.8,244.45 L95,243.11 L95.2,241.76 L95.4,240.43 L95.6,239.15 L95.8,237.92 L96,236.78 L96.2,235.74 L96.4,234.82 L96.6,234.04 L96.8,233.42 L97,232.97 L97.2,232.69 L97.4,232.6 L97.6,232.69 L97.8,232.97 L98,233.42 L98.2,234.04 L98.4,234.82 L98.6,235.74 L98.8,236.78 L99,237.92 L99.2,239.15 L99.4,240.43 L99.6,241.76 L99.8,243.11 L100,244.45 L100.2,245.78 L100.4,247.08 L100.6,248.32 L100.8,249.51 L101,250.63 L101.2,251.68 L101.4,252.64 L101.6,253.53 L101.8,254.33 L102,255.05 L102.2,255.69 L102.4,256.25 L102.6,256.75 L102.8,257.18 L103,257.55 L103.2,257.86 L103.4,258.13 L103.6,258.35 L103.8,258.54 L104,258.69 L104.2,258.82 L104.4,258.92 L104.6,259 L104.8,259.07 L105,259.12 L105.2,259.16 L105.4,259.2 L105.6,259.22 L105.8,259.24 L106,259.26 L106.2,259.27 L106.4,259.28 L106.6,259.28 L106.8,259.29 L107,259.29 L107.2,259.29 L107.4,259.3 L107.6,259.3 L107.8,259.3 L108,259.3 L108.2,259.3 L108.4,259.3 L108.6,259.3 L108.8,259.3 L109,259.3 L109.2,259.3 L109.4,259.3 L109.6,259.3 L109.8,259.3 L110,259.3 L110.2,259.3 L110.4,259.3 L110.6,259.3 L110.8,259.3 L111,259.3 L111.2,259.3 L111.4,259.3 L111.6,259.3 L111.8,259.3" stroke="#4a86dc" stroke-width="1.4" fill="none" stroke-linejoin="round" opacity="0.9" clip-path="url(#c5)"/>
<path d="M93.6,259.3 L93.8,259.3 L94,259.3 L94.2,259.3 L94.4,259.3 L94.6,259.3 L94.8,259.3 L95,259.3 L95.2,259.3 L95.4,259.3 L95.6,259.3 L95.8,259.3 L96,259.3 L96.2,259.3 L96.4,259.3 L96.6,259.3 L96.8,259.3 L97,259.3 L97.2,259.3 L97.4,259.3 L97.6,259.3 L97.8,259.29 L98,259.29 L98.2,259.29 L98.4,259.28 L98.6,259.28 L98.8,259.27 L99,259.25 L99.2,259.24 L99.4,259.21 L99.6,259.18 L99.8,259.15 L100,259.09 L100.2,259.03 L100.4,258.95 L100.6,258.84 L100.8,258.71 L101,258.54 L101.2,258.34 L101.4,258.1 L101.6,257.81 L101.8,257.46 L102,257.04 L102.2,256.56 L102.4,256 L102.6,255.36 L102.8,254.63 L103,253.81 L103.2,252.9 L103.4,251.91 L103.6,250.83 L103.8,249.67 L104,248.44 L104.2,247.16 L104.4,245.84 L104.6,244.5 L104.8,243.16 L105,241.84 L105.2,240.57 L105.4,239.37 L105.6,238.27 L105.8,237.29 L106,236.46 L106.2,235.79 L106.4,235.3 L106.6,235 L106.8,234.9 L107,235 L107.2,235.3 L107.4,235.79 L107.6,236.46 L107.8,237.29 L108,238.27 L108.2,239.37 L108.4,240.57 L108.6,241.84 L108.8,243.16 L109,244.5 L109.2,245.84 L109.4,247.16 L109.6,248.44 L109.8,249.67 L110,250.83 L110.2,251.91 L110.4,252.9 L110.6,253.81 L110.8,254.63 L111,255.36 L111.2,256 L111.4,256.56 L111.6,257.04 L111.8,257.46 L112,257.81 L112.2,258.1 L112.4,258.34 L112.6,258.54 L112.8,258.71 L113,258.84 L113.2,258.95 L113.4,259.03 L113.6,259.09 L113.8,259.15 L114,259.18 L114.2,259.21 L114.4,259.24 L114.6,259.25 L114.8,259.27 L115,259.28 L115.2,259.28 L115.4,259.29 L115.6,259.29 L115.8,259.29 L116,259.3 L116.2,259.3 L116.4,259.3 L116.6,259.3 L116.8,259.3 L117,259.3 L117.2,259.3 L117.4,259.3 L117.6,259.3 L117.8,259.3 L118,259.3 L118.2,259.3 L118.4,259.3 L118.6,259.3 L118.8,259.3 L119,259.3 L119.2,259.3 L119.4,259.3 L119.6,259.3 L119.8,259.3 L120,259.3" stroke="#4a86dc" stroke-width="1.4" fill="none" stroke-linejoin="round" opacity="0.9" clip-path="url(#c5)"/>
<path d="M93.5,259.3 L93.7,259.3 L93.9,259.3 L94.1,259.3 L94.3,259.3 L94.5,259.3 L94.7,259.3 L94.9,259.3 L95.1,259.3 L95.3,259.3 L95.5,259.29 L95.7,259.28 L95.9,259.27 L96.1,259.24 L96.3,259.19 L96.5,259.09 L96.7,258.92 L96.9,258.65 L97.1,258.21 L97.3,257.54 L97.5,256.56 L97.7,255.15 L97.9,253.24 L98.1,250.72 L98.3,247.56 L98.5,243.75 L98.7,239.37 L98.9,234.59 L99.1,229.66 L99.3,224.91 L99.5,220.69 L99.7,217.37 L99.9,215.23 L100.1,214.5 L100.3,215.23 L100.5,217.37 L100.7,220.69 L100.9,224.91 L101.1,229.66 L101.3,234.59 L101.5,239.37 L101.7,243.75 L101.9,247.56 L102.1,250.72 L102.3,253.24 L102.5,255.15 L102.7,256.56 L102.9,257.54 L103.1,258.21 L103.3,258.65 L103.5,258.92 L103.7,259.09 L103.9,259.19 L104.1,259.24 L104.3,259.27 L104.5,259.28 L104.7,259.29 L104.9,259.3 L105.1,259.3 L105.3,259.3 L105.5,259.3 L105.7,259.3 L105.9,259.3 L106.1,259.3 L106.3,259.3 L106.5,259.3 L106.7,259.3" stroke="#f0505f" stroke-width="1.4" fill="none" stroke-linejoin="round" opacity="0.9" clip-path="url(#c5)"/>
<path d="M97.2,259.3 L97.4,259.3 L97.6,259.3 L97.8,259.3 L98,259.3 L98.2,259.3 L98.4,259.3 L98.6,259.3 L98.8,259.29 L99,259.29 L99.2,259.27 L99.4,259.23 L99.6,259.15 L99.8,259 L100,258.72 L100.2,258.23 L100.4,257.4 L100.6,256.06 L100.8,254.03 L101,251.09 L101.2,247.06 L101.4,241.85 L101.6,235.5 L101.8,228.25 L102,220.55 L102.2,213.03 L102.4,206.45 L102.6,201.55 L102.8,198.94 L103,198.94 L103.2,201.55 L103.4,206.45 L103.6,213.03 L103.8,220.55 L104,228.25 L104.2,235.5 L104.4,241.85 L104.6,247.06 L104.8,251.09 L105,254.03 L105.2,256.06 L105.4,257.4 L105.6,258.23 L105.8,258.72 L106,259 L106.2,259.15 L106.4,259.23 L106.6,259.27 L106.8,259.29 L107,259.29 L107.2,259.3 L107.4,259.3 L107.6,259.3 L107.8,259.3 L108,259.3 L108.2,259.3 L108.4,259.3 L108.6,259.3" stroke="#36478f" stroke-width="1.4" fill="none" stroke-linejoin="round" opacity="0.9" clip-path="url(#c5)"/>
<path d="M100.5,259.3 L100.7,259.3 L100.9,259.3 L101.1,259.3 L101.3,259.3 L101.5,259.3 L101.7,259.3 L101.9,259.3 L102.1,259.29 L102.3,259.28 L102.5,259.26 L102.7,259.21 L102.9,259.11 L103.1,258.91 L103.3,258.53 L103.5,257.87 L103.7,256.76 L103.9,254.98 L104.1,252.27 L104.3,248.35 L104.5,242.98 L104.7,236.04 L104.9,227.58 L105.1,217.92 L105.3,207.65 L105.5,197.63 L105.7,188.86 L105.9,182.33 L106.1,178.85 L106.3,178.85 L106.5,182.33 L106.7,188.86 L106.9,197.63 L107.1,207.65 L107.3,217.92 L107.5,227.58 L107.7,236.04 L107.9,242.98 L108.1,248.35 L108.3,252.27 L108.5,254.98 L108.7,256.76 L108.9,257.87 L109.1,258.53 L109.3,258.91 L109.5,259.11 L109.7,259.21 L109.9,259.26 L110.1,259.28 L110.3,259.29 L110.5,259.3 L110.7,259.3 L110.9,259.3 L111.1,259.3 L111.3,259.3 L111.5,259.3 L111.7,259.3 L111.9,259.3" stroke="#7b2d8e" stroke-width="1.4" fill="none" stroke-linejoin="round" opacity="0.9" clip-path="url(#c5)"/>
<path d="M139.3,259.3 L139.5,259.3 L139.7,259.3 L139.9,259.3 L140.1,259.3 L140.3,259.3 L140.5,259.3 L140.7,259.3 L140.9,259.29 L141.1,259.29 L141.3,259.27 L141.5,259.23 L141.7,259.15 L141.9,259 L142.1,258.72 L142.3,258.23 L142.5,257.4 L142.7,256.06 L142.9,254.03 L143.1,251.09 L143.3,247.06 L143.5,241.85 L143.7,235.5 L143.9,228.25 L144.1,220.55 L144.3,213.03 L144.5,206.45 L144.7,201.55 L144.9,198.94 L145.1,198.94 L145.3,201.55 L145.5,206.45 L145.7,213.03 L145.9,220.55 L146.1,228.25 L146.3,235.5 L146.5,241.85 L146.7,247.06 L146.9,251.09 L147.1,254.03 L147.3,256.06 L147.5,257.4 L147.7,258.23 L147.9,258.72 L148.1,259 L148.3,259.15 L148.5,259.23 L148.7,259.27 L148.9,259.29 L149.1,259.29 L149.3,259.3 L149.5,259.3 L149.7,259.3 L149.9,259.3 L150.1,259.3 L150.3,259.3 L150.5,259.3 L150.7,259.3" stroke="#7b2d8e" stroke-width="1.4" fill="none" stroke-linejoin="round" opacity="0.9" clip-path="url(#c5)"/>
<path d="M138.1,259.3 L138.3,259.3 L138.5,259.3 L138.7,259.3 L138.9,259.3 L139.1,259.3 L139.3,259.3 L139.5,259.3 L139.7,259.3 L139.9,259.3 L140.1,259.29 L140.3,259.29 L140.5,259.28 L140.7,259.26 L140.9,259.22 L141.1,259.15 L141.3,259.03 L141.5,258.84 L141.7,258.53 L141.9,258.06 L142.1,257.34 L142.3,256.31 L142.5,254.88 L142.7,252.94 L142.9,250.43 L143.1,247.3 L143.3,243.54 L143.5,239.22 L143.7,234.49 L143.9,229.55 L144.1,224.7 L144.3,220.25 L144.5,216.54 L144.7,213.87 L144.9,212.48 L145.1,212.48 L145.3,213.87 L145.5,216.54 L145.7,220.25 L145.9,224.7 L146.1,229.55 L146.3,234.49 L146.5,239.22 L146.7,243.54 L146.9,247.3 L147.1,250.43 L147.3,252.94 L147.5,254.88 L147.7,256.31 L147.9,257.34 L148.1,258.06 L148.3,258.53 L148.5,258.84 L148.7,259.03 L148.9,259.15 L149.1,259.22 L149.3,259.26 L149.5,259.28 L149.7,259.29 L149.9,259.29 L150.1,259.3 L150.3,259.3 L150.5,259.3 L150.7,259.3 L150.9,259.3 L151.1,259.3 L151.3,259.3 L151.5,259.3 L151.7,259.3 L151.9,259.3" stroke="#4a86dc" stroke-width="1.4" fill="none" stroke-linejoin="round" opacity="0.9" clip-path="url(#c5)"/>
<path d="M34.5,259.3H255.3" stroke="#4a86dc" stroke-width="1.4"/>
<path d="M36.98,263.1v-2M36.98,174.5v2M41.89,263.1v-2M41.89,174.5v2M51.71,263.1v-2M51.71,174.5v2M56.62,263.1v-2M56.62,174.5v2M61.53,263.1v-2M61.53,174.5v2M66.44,263.1v-2M66.44,174.5v2M76.26,263.1v-2M76.26,174.5v2M81.17,263.1v-2M81.17,174.5v2M86.08,263.1v-2M86.08,174.5v2M90.99,263.1v-2M90.99,174.5v2M100.81,263.1v-2M100.81,174.5v2M105.72,263.1v-2M105.72,174.5v2M110.63,263.1v-2M110.63,174.5v2M115.54,263.1v-2M115.54,174.5v2M125.36,263.1v-2M125.36,174.5v2M130.27,263.1v-2M130.27,174.5v2M135.18,263.1v-2M135.18,174.5v2M140.09,263.1v-2M140.09,174.5v2M149.91,263.1v-2M149.91,174.5v2M154.82,263.1v-2M154.82,174.5v2M159.73,263.1v-2M159.73,174.5v2M164.64,263.1v-2M164.64,174.5v2M174.46,263.1v-2M174.46,174.5v2M179.37,263.1v-2M179.37,174.5v2M184.28,263.1v-2M184.28,174.5v2M189.19,263.1v-2M189.19,174.5v2M199.01,263.1v-2M199.01,174.5v2M203.92,263.1v-2M203.92,174.5v2M208.83,263.1v-2M208.83,174.5v2M213.74,263.1v-2M213.74,174.5v2M223.56,263.1v-2M223.56,174.5v2M228.47,263.1v-2M228.47,174.5v2M233.38,263.1v-2M233.38,174.5v2M238.29,263.1v-2M238.29,174.5v2M248.11,263.1v-2M248.11,174.5v2M253.02,263.1v-2M253.02,174.5v2M34.5,252.6h2M255.3,252.6h-2M34.5,245.95h2M255.3,245.95h-2M34.5,239.3h2M255.3,239.3h-2M34.5,232.65h2M255.3,232.65h-2M34.5,219.35h2M255.3,219.35h-2M34.5,212.7h2M255.3,212.7h-2M34.5,206.05h2M255.3,206.05h-2M34.5,199.4h2M255.3,199.4h-2M34.5,186.1h2M255.3,186.1h-2M34.5,179.45h2M255.3,179.45h-2" stroke="#5a5a5a" stroke-width="0.6" fill="none" opacity="0.8"/>
<path d="M46.8,263.1v-3.5M46.8,174.5v3.5M71.35,263.1v-3.5M71.35,174.5v3.5M95.9,263.1v-3.5M95.9,174.5v3.5M120.45,263.1v-3.5M120.45,174.5v3.5M145,263.1v-3.5M145,174.5v3.5M169.55,263.1v-3.5M169.55,174.5v3.5M194.1,263.1v-3.5M194.1,174.5v3.5M218.65,263.1v-3.5M218.65,174.5v3.5M243.2,263.1v-3.5M243.2,174.5v3.5M34.5,259.25h3.5M255.3,259.25h-3.5M34.5,226h3.5M255.3,226h-3.5M34.5,192.75h3.5M255.3,192.75h-3.5" stroke="#5a5a5a" stroke-width="0.8" fill="none"/>
<rect x="34.5" y="174.5" width="220.8" height="88.6" fill="none" stroke="#a0a0a0" stroke-width="1"/>
<text x="13.89" y="196.87" font-size="10.1" textLength="18.09" lengthAdjust="spacingAndGlyphs" fill="#000">100</text>
<text x="20.16" y="230.07" font-size="10.1" textLength="11.81" lengthAdjust="spacingAndGlyphs" fill="#000">50</text>
<text x="26.26" y="263.37" font-size="10.1" textLength="5.7" lengthAdjust="spacingAndGlyphs" fill="#000">0</text>
<path d="M39.3,182.4H51.4" stroke="#7b2d8e" stroke-width="1.4" opacity="0.85"/>
<text x="55.32" y="184.81" font-size="7" textLength="29.98" lengthAdjust="spacingAndGlyphs" fill="#222">~123.2μHz</text>
<path d="M39.3,190.4H51.4" stroke="#f0505f" stroke-width="1.4" opacity="0.85"/>
<text x="55.32" y="192.81" font-size="7" textLength="29.98" lengthAdjust="spacingAndGlyphs" fill="#222">~180.4μHz</text>
<path d="M39.3,198.4H51.4" stroke="#f78a4a" stroke-width="1.4" opacity="0.85"/>
<text x="55.32" y="200.81" font-size="7" textLength="29.98" lengthAdjust="spacingAndGlyphs" fill="#222">~198.9μHz</text>
<path d="M39.3,206.4H51.4" stroke="#1ec0c4" stroke-width="1.4" opacity="0.85"/>
<text x="55.32" y="208.81" font-size="7" textLength="29.98" lengthAdjust="spacingAndGlyphs" fill="#222">~288.6μHz</text>
<path d="M39.3,214.4H51.4" stroke="#36478f" stroke-width="1.4" opacity="0.85"/>
<text x="55.32" y="216.81" font-size="7" textLength="29.98" lengthAdjust="spacingAndGlyphs" fill="#222">~324.2μHz</text>
<path d="M39.3,222.4H51.4" stroke="#4a86dc" stroke-width="1.4" opacity="0.85"/>
<text x="55.32" y="224.81" font-size="7" textLength="29.98" lengthAdjust="spacingAndGlyphs" fill="#222">~501.4μHz</text>
<text x="35.46" y="273.27" font-size="10.1" textLength="22.94" lengthAdjust="spacingAndGlyphs" fill="#000">−0.4</text>
<text x="60.01" y="273.27" font-size="10.1" textLength="22.87" lengthAdjust="spacingAndGlyphs" fill="#000">−0.3</text>
<text x="84.56" y="273.27" font-size="10.1" textLength="22.75" lengthAdjust="spacingAndGlyphs" fill="#000">−0.2</text>
<text x="109.11" y="273.27" font-size="10.1" textLength="22.81" lengthAdjust="spacingAndGlyphs" fill="#000">−0.1</text>
<text x="137.49" y="273.27" font-size="10.1" textLength="15.02" lengthAdjust="spacingAndGlyphs" fill="#000">0.0</text>
<text x="162.04" y="273.27" font-size="10.1" textLength="14.86" lengthAdjust="spacingAndGlyphs" fill="#000">0.1</text>
<text x="186.6" y="273.27" font-size="10.1" textLength="14.8" lengthAdjust="spacingAndGlyphs" fill="#000">0.2</text>
<text x="211.14" y="273.27" font-size="10.1" textLength="14.93" lengthAdjust="spacingAndGlyphs" fill="#000">0.3</text>
<text x="235.69" y="273.27" font-size="10.1" textLength="15.01" lengthAdjust="spacingAndGlyphs" fill="#000">0.4</text>
<clipPath id="c6"><rect x="258.8" y="20.5" width="108.2" height="57.7"/></clipPath>
<path d="M312.7,20.5V78.2" stroke="#b8b8b8" stroke-width="0.8" stroke-dasharray="1.6,1.4" fill="none"/>
<path d="M258.9,72.3 C259.38,71.67 260.77,69.5 261.8,68.5 C262.83,67.5 264,66.42 265.1,66.3 C266.2,66.18 267.48,67.07 268.4,67.8 C269.32,68.53 269.87,69.7 270.6,70.7 C271.33,71.7 271.88,74.1 272.8,73.8 C273.72,73.5 275.17,70.63 276.1,68.9 C277.03,67.17 277.65,65.42 278.4,63.4 C279.15,61.38 279.68,59.2 280.6,56.8 C281.52,54.4 282.8,50.97 283.9,49 C285,47.03 286.1,45.73 287.2,45 C288.3,44.27 289.38,44.3 290.5,44.6 C291.62,44.9 292.6,45.8 293.9,46.8 C295.2,47.8 297.02,50.23 298.3,50.6 C299.58,50.97 300.5,50 301.6,49 C302.7,48 303.6,46.08 304.9,44.6 C306.2,43.12 308.1,41.03 309.4,40.1 C310.7,39.17 311.6,38.88 312.7,39 C313.8,39.12 314.9,39.68 316,40.8 C317.1,41.92 318.2,43.6 319.3,45.7 C320.4,47.8 321.48,50.82 322.6,53.4 C323.72,55.98 324.88,58.8 326,61.2 C327.12,63.6 328.2,66.07 329.3,67.8 C330.4,69.53 331.32,70.85 332.6,71.6 C333.88,72.35 335.7,72.38 337,72.3 C338.3,72.22 339.1,71.73 340.4,71.1 C341.7,70.47 343.33,69.6 344.8,68.5 C346.27,67.4 347.73,65.72 349.2,64.5 C350.67,63.28 352.12,62.02 353.6,61.2 C355.08,60.38 356.62,59.78 358.1,59.6 C359.58,59.42 361.03,59.47 362.5,60.1 C363.97,60.73 366.17,62.85 366.9,63.4" stroke="#f78a4a" stroke-width="1.4" fill="none" stroke-linejoin="round" clip-path="url(#c6)"/>
<path d="M258.8,59.4H367" stroke="#222" stroke-width="0.95" stroke-dasharray="2.3,1.2" fill="none" clip-path="url(#c6)"/>
<path d="M265.06,78.2v-2M265.06,20.5v2M271.04,78.2v-2M271.04,20.5v2M277.02,78.2v-2M277.02,20.5v2M288.98,78.2v-2M288.98,20.5v2M294.96,78.2v-2M294.96,20.5v2M300.94,78.2v-2M300.94,20.5v2M306.92,78.2v-2M306.92,20.5v2M318.88,78.2v-2M318.88,20.5v2M324.86,78.2v-2M324.86,20.5v2M330.84,78.2v-2M330.84,20.5v2M336.82,78.2v-2M336.82,20.5v2M348.78,78.2v-2M348.78,20.5v2M354.76,78.2v-2M354.76,20.5v2M360.74,78.2v-2M360.74,20.5v2M258.8,71.84h2M367,71.84h-2M258.8,67.38h2M367,67.38h-2M258.8,62.92h2M367,62.92h-2M258.8,58.46h2M367,58.46h-2M258.8,49.54h2M367,49.54h-2M258.8,45.08h2M367,45.08h-2M258.8,40.62h2M367,40.62h-2M258.8,36.16h2M367,36.16h-2M258.8,27.24h2M367,27.24h-2M258.8,22.78h2M367,22.78h-2" stroke="#5a5a5a" stroke-width="0.6" fill="none" opacity="0.8"/>
<path d="M283,78.2v-3.5M283,20.5v3.5M312.9,78.2v-3.5M312.9,20.5v3.5M342.8,78.2v-3.5M342.8,20.5v3.5M258.8,76.3h3.5M367,76.3h-3.5M258.8,54h3.5M367,54h-3.5M258.8,31.7h3.5M367,31.7h-3.5" stroke="#5a5a5a" stroke-width="0.8" fill="none"/>
<rect x="258.8" y="20.5" width="108.2" height="57.7" fill="none" stroke="#a0a0a0" stroke-width="1"/>
<text x="369.62" y="35.67" font-size="10.1" textLength="11.81" lengthAdjust="spacingAndGlyphs" fill="#000">50</text>
<text x="369.48" y="57.82" font-size="10.1" textLength="11.78" lengthAdjust="spacingAndGlyphs" fill="#000">25</text>
<text x="369.54" y="80.37" font-size="10.1" textLength="5.7" lengthAdjust="spacingAndGlyphs" fill="#000">0</text>
<clipPath id="c7"><rect x="258.8" y="82.4" width="108.2" height="57.6"/></clipPath>
<path d="M312.7,82.4V140" stroke="#b8b8b8" stroke-width="0.8" stroke-dasharray="1.6,1.4" fill="none"/>
<path d="M258.9,137.1 C259.57,136.88 261.5,136.2 262.9,135.8 C264.3,135.4 265.83,134.85 267.3,134.7 C268.77,134.55 270.42,134.68 271.7,134.9 C272.98,135.12 273.88,135.92 275,136 C276.12,136.08 277.28,136.17 278.4,135.4 C279.52,134.63 280.6,132.82 281.7,131.4 C282.8,129.98 283.9,128.08 285,126.9 C286.1,125.72 287.2,124.92 288.3,124.3 C289.4,123.68 290.48,123.2 291.6,123.2 C292.72,123.2 293.88,124.12 295,124.3 C296.12,124.48 297.2,124.85 298.3,124.3 C299.4,123.75 300.5,122.67 301.6,121 C302.7,119.33 303.78,116.7 304.9,114.3 C306.02,111.9 307.18,108.63 308.3,106.6 C309.42,104.57 310.62,103.03 311.6,102.1 C312.58,101.17 313.28,100.8 314.2,101 C315.12,101.2 316.07,102 317.1,103.3 C318.13,104.6 319.28,106.42 320.4,108.8 C321.52,111.18 322.77,114.65 323.8,117.6 C324.83,120.55 325.68,124.2 326.6,126.5 C327.52,128.8 328.42,130.55 329.3,131.4 C330.18,132.25 330.98,131.87 331.9,131.6 C332.82,131.33 333.95,130.2 334.8,129.8 C335.65,129.4 336.07,129.02 337,129.2 C337.93,129.38 339.28,130.05 340.4,130.9 C341.52,131.75 342.6,134 343.7,134.3 C344.8,134.6 345.9,133.82 347,132.7 C348.1,131.58 349.2,128.88 350.3,127.6 C351.4,126.32 352.6,125.43 353.6,125 C354.6,124.57 355.37,124.75 356.3,125 C357.23,125.25 358.17,125.52 359.2,126.5 C360.23,127.48 361.22,129.38 362.5,130.9 C363.78,132.42 366.17,134.82 366.9,135.6" stroke="#1ec0c4" stroke-width="1.4" fill="none" stroke-linejoin="round" clip-path="url(#c7)"/>
<path d="M258.8,129.2H367" stroke="#222" stroke-width="0.95" stroke-dasharray="2.3,1.2" fill="none" clip-path="url(#c7)"/>
<path d="M265.06,140v-2M265.06,82.4v2M271.04,140v-2M271.04,82.4v2M277.02,140v-2M277.02,82.4v2M288.98,140v-2M288.98,82.4v2M294.96,140v-2M294.96,82.4v2M300.94,140v-2M300.94,82.4v2M306.92,140v-2M306.92,82.4v2M318.88,140v-2M318.88,82.4v2M324.86,140v-2M324.86,82.4v2M330.84,140v-2M330.84,82.4v2M336.82,140v-2M336.82,82.4v2M348.78,140v-2M348.78,82.4v2M354.76,140v-2M354.76,82.4v2M360.74,140v-2M360.74,82.4v2M258.8,133.31h2M367,133.31h-2M258.8,128.81h2M367,128.81h-2M258.8,124.32h2M367,124.32h-2M258.8,119.82h2M367,119.82h-2M258.8,110.83h2M367,110.83h-2M258.8,106.34h2M367,106.34h-2M258.8,101.84h2M367,101.84h-2M258.8,97.35h2M367,97.35h-2M258.8,88.36h2M367,88.36h-2M258.8,83.86h2M367,83.86h-2" stroke="#5a5a5a" stroke-width="0.6" fill="none" opacity="0.8"/>
<path d="M283,140v-3.5M283,82.4v3.5M312.9,140v-3.5M312.9,82.4v3.5M342.8,140v-3.5M342.8,82.4v3.5M258.8,137.8h3.5M367,137.8h-3.5M258.8,115.33h3.5M367,115.33h-3.5M258.8,92.85h3.5M367,92.85h-3.5" stroke="#5a5a5a" stroke-width="0.8" fill="none"/>
<rect x="258.8" y="82.4" width="108.2" height="57.6" fill="none" stroke="#a0a0a0" stroke-width="1"/>
<text x="369.54" y="96.82" font-size="10.1" textLength="18.09" lengthAdjust="spacingAndGlyphs" fill="#000">100</text>
<text x="369.62" y="119.37" font-size="10.1" textLength="11.81" lengthAdjust="spacingAndGlyphs" fill="#000">50</text>
<text x="369.54" y="141.87" font-size="10.1" textLength="5.7" lengthAdjust="spacingAndGlyphs" fill="#000">0</text>
<clipPath id="c8"><rect x="258.8" y="144.2" width="108.2" height="57.3"/></clipPath>
<path d="M312.7,144.2V201.5" stroke="#b8b8b8" stroke-width="0.8" stroke-dasharray="1.6,1.4" fill="none"/>
<path d="M258.9,193.1 C259.57,193.37 261.5,194.32 262.9,194.7 C264.3,195.08 265.83,195.1 267.3,195.4 C268.77,195.7 270.23,196.07 271.7,196.5 C273.17,196.93 274.8,197.9 276.1,198 C277.4,198.1 278.38,197.72 279.5,197.1 C280.62,196.48 281.7,195.07 282.8,194.3 C283.9,193.53 285,192.77 286.1,192.5 C287.2,192.23 288.4,192.3 289.4,192.7 C290.4,193.1 291.28,194.17 292.1,194.9 C292.92,195.63 293.45,197.2 294.3,197.1 C295.15,197 296.17,196.43 297.2,194.3 C298.23,192.17 299.4,187.82 300.5,184.3 C301.6,180.78 302.7,176.23 303.8,173.2 C304.9,170.17 305.98,167.75 307.1,166.1 C308.22,164.45 309.57,163.97 310.5,163.3 C311.43,162.63 311.78,162 312.7,162.1 C313.62,162.2 314.9,162.6 316,163.9 C317.1,165.2 318.2,167.42 319.3,169.9 C320.4,172.38 321.48,176.03 322.6,178.8 C323.72,181.57 325.07,184.95 326,186.5 C326.93,188.05 327.35,187.92 328.2,188.1 C329.05,188.28 330.18,188.23 331.1,187.6 C332.02,186.97 332.6,185.33 333.7,184.3 C334.8,183.27 336.52,181.7 337.7,181.4 C338.88,181.1 339.8,181.83 340.8,182.5 C341.8,183.17 342.67,184.18 343.7,185.4 C344.73,186.62 345.9,188.13 347,189.8 C348.1,191.47 349.3,194.03 350.3,195.4 C351.3,196.77 352.07,197.82 353,198 C353.93,198.18 354.87,197.12 355.9,196.5 C356.93,195.88 358.1,194.87 359.2,194.3 C360.3,193.73 361.22,193.3 362.5,193.1 C363.78,192.9 366.17,193.1 366.9,193.1" stroke="#36478f" stroke-width="1.4" fill="none" stroke-linejoin="round" clip-path="url(#c8)"/>
<path d="M258.8,192H367" stroke="#222" stroke-width="0.95" stroke-dasharray="2.3,1.2" fill="none" clip-path="url(#c8)"/>
<path d="M265.06,201.5v-2M265.06,144.2v2M271.04,201.5v-2M271.04,144.2v2M277.02,201.5v-2M277.02,144.2v2M288.98,201.5v-2M288.98,144.2v2M294.96,201.5v-2M294.96,144.2v2M300.94,201.5v-2M300.94,144.2v2M306.92,201.5v-2M306.92,144.2v2M318.88,201.5v-2M318.88,144.2v2M324.86,201.5v-2M324.86,144.2v2M330.84,201.5v-2M330.84,144.2v2M336.82,201.5v-2M336.82,144.2v2M348.78,201.5v-2M348.78,144.2v2M354.76,201.5v-2M354.76,144.2v2M360.74,201.5v-2M360.74,144.2v2M258.8,195.85h2M367,195.85h-2M258.8,191.7h2M367,191.7h-2M258.8,187.55h2M367,187.55h-2M258.8,183.4h2M367,183.4h-2M258.8,175.1h2M367,175.1h-2M258.8,170.95h2M367,170.95h-2M258.8,166.8h2M367,166.8h-2M258.8,162.65h2M367,162.65h-2M258.8,154.35h2M367,154.35h-2M258.8,150.2h2M367,150.2h-2M258.8,146.05h2M367,146.05h-2" stroke="#5a5a5a" stroke-width="0.6" fill="none" opacity="0.8"/>
<path d="M283,201.5v-3.5M283,144.2v3.5M312.9,201.5v-3.5M312.9,144.2v3.5M342.8,201.5v-3.5M342.8,144.2v3.5M258.8,200h3.5M367,200h-3.5M258.8,179.25h3.5M367,179.25h-3.5M258.8,158.5h3.5M367,158.5h-3.5" stroke="#5a5a5a" stroke-width="0.8" fill="none"/>
<rect x="258.8" y="144.2" width="108.2" height="57.3" fill="none" stroke="#a0a0a0" stroke-width="1"/>
<text x="369.54" y="162.57" font-size="10.1" textLength="18.09" lengthAdjust="spacingAndGlyphs" fill="#000">100</text>
<text x="369.62" y="183.57" font-size="10.1" textLength="11.81" lengthAdjust="spacingAndGlyphs" fill="#000">50</text>
<text x="369.54" y="204.07" font-size="10.1" textLength="5.7" lengthAdjust="spacingAndGlyphs" fill="#000">0</text>
<clipPath id="c9"><rect x="258.8" y="205.8" width="108.2" height="57.3"/></clipPath>
<path d="M312.7,205.8V263.1" stroke="#b8b8b8" stroke-width="0.8" stroke-dasharray="1.6,1.4" fill="none"/>
<path d="M258.9,256.3 C259.57,255.92 261.5,254.57 262.9,254 C264.3,253.43 266.02,252.78 267.3,252.9 C268.58,253.02 269.57,253.77 270.6,254.7 C271.63,255.63 272.58,257.5 273.5,258.5 C274.42,259.5 275.1,261.45 276.1,260.7 C277.1,259.95 278.38,256.4 279.5,254 C280.62,251.6 281.7,248.62 282.8,246.3 C283.9,243.98 285,241.58 286.1,240.1 C287.2,238.62 288.28,237.67 289.4,237.4 C290.52,237.13 291.5,237.57 292.8,238.5 C294.1,239.43 295.92,242.43 297.2,243 C298.48,243.57 299.4,243.02 300.5,241.9 C301.6,240.78 302.5,238.7 303.8,236.3 C305.1,233.9 306.82,229.53 308.3,227.5 C309.78,225.47 311.42,224.28 312.7,224.1 C313.98,223.92 314.9,224.92 316,226.4 C317.1,227.88 318.2,230.23 319.3,233 C320.4,235.77 321.67,240.6 322.6,243 C323.53,245.4 324.15,246.12 324.9,247.4 C325.65,248.68 326.37,250.88 327.1,250.7 C327.83,250.52 328.38,248.33 329.3,246.3 C330.22,244.27 331.5,240.6 332.6,238.5 C333.7,236.4 334.98,234.68 335.9,233.7 C336.82,232.72 337.17,232.42 338.1,232.6 C339.03,232.78 340.38,233.43 341.5,234.8 C342.62,236.17 343.7,238.52 344.8,240.8 C345.9,243.08 347,245.92 348.1,248.5 C349.2,251.08 350.48,254.45 351.4,256.3 C352.32,258.15 352.67,259.32 353.6,259.6 C354.53,259.88 355.88,258.63 357,258 C358.12,257.37 359.2,256.2 360.3,255.8 C361.4,255.4 362.5,255.42 363.6,255.6 C364.7,255.78 366.35,256.68 366.9,256.9" stroke="#4a86dc" stroke-width="1.4" fill="none" stroke-linejoin="round" clip-path="url(#c9)"/>
<path d="M258.8,248.1H367" stroke="#222" stroke-width="0.95" stroke-dasharray="2.3,1.2" fill="none" clip-path="url(#c9)"/>
<path d="M265.06,263.1v-2M265.06,205.8v2M271.04,263.1v-2M271.04,205.8v2M277.02,263.1v-2M277.02,205.8v2M288.98,263.1v-2M288.98,205.8v2M294.96,263.1v-2M294.96,205.8v2M300.94,263.1v-2M300.94,205.8v2M306.92,263.1v-2M306.92,205.8v2M318.88,263.1v-2M318.88,205.8v2M324.86,263.1v-2M324.86,205.8v2M330.84,263.1v-2M330.84,205.8v2M336.82,263.1v-2M336.82,205.8v2M348.78,263.1v-2M348.78,205.8v2M354.76,263.1v-2M354.76,205.8v2M360.74,263.1v-2M360.74,205.8v2M258.8,254.4h2M367,254.4h-2M258.8,247.3h2M367,247.3h-2M258.8,240.2h2M367,240.2h-2M258.8,233.1h2M367,233.1h-2M258.8,218.9h2M367,218.9h-2M258.8,211.8h2M367,211.8h-2" stroke="#5a5a5a" stroke-width="0.6" fill="none" opacity="0.8"/>
<path d="M283,263.1v-3.5M283,205.8v3.5M312.9,263.1v-3.5M312.9,205.8v3.5M342.8,263.1v-3.5M342.8,205.8v3.5M258.8,261.5h3.5M367,261.5h-3.5M258.8,226h3.5M367,226h-3.5" stroke="#5a5a5a" stroke-width="0.8" fill="none"/>
<rect x="258.8" y="205.8" width="108.2" height="57.3" fill="none" stroke="#a0a0a0" stroke-width="1"/>
<text x="369.62" y="230.07" font-size="10.1" textLength="11.81" lengthAdjust="spacingAndGlyphs" fill="#000">50</text>
<text x="369.54" y="265.57" font-size="10.1" textLength="5.7" lengthAdjust="spacingAndGlyphs" fill="#000">0</text>
<path d="M293.6,32.8V36.2M312.5,32.8V36.2" stroke="#222" stroke-width="1.1" fill="none"/>
<path d="M295.2,34.5H310.9" stroke="#333" stroke-width="0.7" fill="none"/>
<path d="M298.1,32.95L295.2,34.5L298.1,36.05M308,32.95L310.9,34.5L308,36.05" stroke="#222" stroke-width="1.0" fill="none" stroke-linejoin="miter"/>
<text x="290.54" y="29.85" font-size="10.6" textLength="29.37" lengthAdjust="spacingAndGlyphs" fill="#000">0.156</text>
<path d="M293.4,94.5V97.9M313.3,94.5V97.9" stroke="#222" stroke-width="1.1" fill="none"/>
<path d="M295,96.2H311.7" stroke="#333" stroke-width="0.7" fill="none"/>
<path d="M297.9,94.65L295,96.2L297.9,97.75M308.8,94.65L311.7,96.2L308.8,97.75" stroke="#222" stroke-width="1.0" fill="none" stroke-linejoin="miter"/>
<text x="290.55" y="91.95" font-size="10.6" textLength="28.81" lengthAdjust="spacingAndGlyphs" fill="#000">0.161</text>
<path d="M312.5,156.1V159.5M333.8,156.1V159.5" stroke="#222" stroke-width="1.1" fill="none"/>
<path d="M314.1,157.8H332.2" stroke="#333" stroke-width="0.7" fill="none"/>
<path d="M317,156.25L314.1,157.8L317,159.35M329.3,156.25L332.2,157.8L329.3,159.35" stroke="#222" stroke-width="1.0" fill="none" stroke-linejoin="miter"/>
<text x="309.74" y="153.95" font-size="10.6" textLength="29.45" lengthAdjust="spacingAndGlyphs" fill="#000">0.172</text>
<path d="M293.8,217.8V221.2M312.5,217.8V221.2" stroke="#222" stroke-width="1.1" fill="none"/>
<path d="M295.4,219.5H310.9" stroke="#333" stroke-width="0.7" fill="none"/>
<path d="M298.3,217.95L295.4,219.5L298.3,221.05M308,217.95L310.9,219.5L308,221.05" stroke="#222" stroke-width="1.0" fill="none" stroke-linejoin="miter"/>
<path d="M312.5,217.8V221.2M336.2,217.8V221.2" stroke="#222" stroke-width="1.1" fill="none"/>
<path d="M314.1,219.5H334.6" stroke="#333" stroke-width="0.7" fill="none"/>
<path d="M317,217.95L314.1,219.5L317,221.05M331.7,217.95L334.6,219.5L331.7,221.05" stroke="#222" stroke-width="1.0" fill="none" stroke-linejoin="miter"/>
<text x="286.83" y="215.05" font-size="10.6" textLength="30.38" lengthAdjust="spacingAndGlyphs" fill="#000">0.157</text>
<text x="317.85" y="215.05" font-size="10.6" textLength="29.04" lengthAdjust="spacingAndGlyphs" fill="#000">0.195</text>
<text x="268.57" y="273.27" font-size="10.1" textLength="28.95" lengthAdjust="spacingAndGlyphs" fill="#000">−0.25</text>
<text x="302.29" y="273.27" font-size="10.1" textLength="21.21" lengthAdjust="spacingAndGlyphs" fill="#000">0.00</text>
<text x="332.2" y="273.27" font-size="10.1" textLength="21.03" lengthAdjust="spacingAndGlyphs" fill="#000">0.25</text>
<clipPath id="c10"><rect x="408.3" y="20.5" width="164" height="57.7"/></clipPath>
<path d="M490.3,20.5V78.2" stroke="#b8b8b8" stroke-width="0.8" stroke-dasharray="1.6,1.4" fill="none"/>
<path d="M408.3,68.2H572.3" stroke="#6f9a2a" stroke-width="0.85" stroke-dasharray="2.1,1.3" fill="none" clip-path="url(#c10)"/>
<path d="M408.1,70.5 C408.55,70.62 409.78,71.17 410.8,71.2 C411.82,71.23 413.07,71.2 414.2,70.7 C415.33,70.2 416.28,69.18 417.6,68.2 C418.92,67.22 420.6,65.62 422.1,64.8 C423.6,63.98 425.08,63.67 426.6,63.3 C428.12,62.93 429.68,62.6 431.2,62.6 C432.72,62.6 434.2,62.88 435.7,63.3 C437.2,63.72 438.77,64.62 440.2,65.1 C441.63,65.58 443.17,66.13 444.3,66.2 C445.43,66.27 445.98,66.55 447,65.5 C448.02,64.45 449.08,61.97 450.4,59.9 C451.72,57.83 453.4,54.98 454.9,53.1 C456.4,51.22 458.15,49.43 459.4,48.6 C460.65,47.77 461.45,47.85 462.4,48.1 C463.35,48.35 464.08,48.7 465.1,50.1 C466.12,51.5 467.48,54.3 468.5,56.5 C469.52,58.7 470.37,61.23 471.2,63.3 C472.03,65.37 472.55,68.53 473.5,68.9 C474.45,69.27 475.85,67.57 476.9,65.5 C477.95,63.43 478.75,59.7 479.8,56.5 C480.85,53.3 482.07,49.02 483.2,46.3 C484.33,43.58 485.55,41.42 486.6,40.2 C487.65,38.98 488.37,39 489.5,39 C490.63,39 492.18,39.17 493.4,40.2 C494.62,41.23 495.67,43.43 496.8,45.2 C497.93,46.97 499.07,49.12 500.2,50.8 C501.33,52.48 502.47,54.43 503.6,55.3 C504.73,56.17 505.87,56.18 507,56 C508.13,55.82 509.08,54.57 510.4,54.2 C511.72,53.83 513.58,53.62 514.9,53.8 C516.22,53.98 517.17,54.28 518.3,55.3 C519.43,56.32 520.38,58.2 521.7,59.9 C523.02,61.6 524.77,63.62 526.2,65.5 C527.63,67.38 529.08,70.13 530.3,71.2 C531.52,72.27 532.3,72.02 533.5,71.9 C534.7,71.78 536.07,70.88 537.5,70.5 C538.93,70.12 540.58,69.67 542.1,69.6 C543.62,69.53 545.1,69.83 546.6,70.1 C548.1,70.37 549.6,70.83 551.1,71.2 C552.6,71.57 554.08,71.93 555.6,72.3 C557.12,72.67 558.68,73.02 560.2,73.4 C561.72,73.78 563.38,74.6 564.7,74.6 C566.02,74.6 566.85,73.97 568.1,73.4 C569.35,72.83 571.52,71.57 572.2,71.2" stroke="#000" stroke-width="1.35" fill="none" stroke-linejoin="round" clip-path="url(#c10)"/>
<path d="M414.46,78.2v-2M414.46,20.5v2M420.78,78.2v-2M420.78,20.5v2M433.42,78.2v-2M433.42,20.5v2M439.74,78.2v-2M439.74,20.5v2M446.06,78.2v-2M446.06,20.5v2M452.38,78.2v-2M452.38,20.5v2M465.02,78.2v-2M465.02,20.5v2M471.34,78.2v-2M471.34,20.5v2M477.66,78.2v-2M477.66,20.5v2M483.98,78.2v-2M483.98,20.5v2M496.62,78.2v-2M496.62,20.5v2M502.94,78.2v-2M502.94,20.5v2M509.26,78.2v-2M509.26,20.5v2M515.58,78.2v-2M515.58,20.5v2M528.22,78.2v-2M528.22,20.5v2M534.54,78.2v-2M534.54,20.5v2M540.86,78.2v-2M540.86,20.5v2M547.18,78.2v-2M547.18,20.5v2M559.82,78.2v-2M559.82,20.5v2M566.14,78.2v-2M566.14,20.5v2M408.3,72.39h2M572.3,72.39h-2M408.3,68.18h2M572.3,68.18h-2M408.3,63.97h2M572.3,63.97h-2M408.3,59.76h2M572.3,59.76h-2M408.3,51.34h2M572.3,51.34h-2M408.3,47.13h2M572.3,47.13h-2M408.3,42.92h2M572.3,42.92h-2M408.3,38.71h2M572.3,38.71h-2M408.3,30.29h2M572.3,30.29h-2M408.3,26.08h2M572.3,26.08h-2M408.3,21.87h2M572.3,21.87h-2" stroke="#5a5a5a" stroke-width="0.6" fill="none" opacity="0.8"/>
<path d="M427.1,78.2v-3.5M427.1,20.5v3.5M458.7,78.2v-3.5M458.7,20.5v3.5M490.3,78.2v-3.5M490.3,20.5v3.5M521.9,78.2v-3.5M521.9,20.5v3.5M553.5,78.2v-3.5M553.5,20.5v3.5M408.3,76.6h3.5M572.3,76.6h-3.5M408.3,55.55h3.5M572.3,55.55h-3.5M408.3,34.5h3.5M572.3,34.5h-3.5" stroke="#5a5a5a" stroke-width="0.8" fill="none"/>
<rect x="408.3" y="20.5" width="164" height="57.7" fill="none" stroke="#a0a0a0" stroke-width="1"/>
<text x="388.29" y="38.57" font-size="10.1" textLength="18.09" lengthAdjust="spacingAndGlyphs" fill="#000">100</text>
<text x="394.56" y="59.87" font-size="10.1" textLength="11.81" lengthAdjust="spacingAndGlyphs" fill="#000">50</text>
<text x="400.66" y="80.67" font-size="10.1" textLength="5.7" lengthAdjust="spacingAndGlyphs" fill="#000">0</text>
<clipPath id="c11"><rect x="408.3" y="82.4" width="164" height="57.6"/></clipPath>
<path d="M490.3,82.4V140" stroke="#b8b8b8" stroke-width="0.8" stroke-dasharray="1.6,1.4" fill="none"/>
<path d="M408.3,116.4H572.3" stroke="#6f9a2a" stroke-width="0.85" stroke-dasharray="2.1,1.3" fill="none" clip-path="url(#c11)"/>
<path d="M408.1,131.6 C408.55,131.93 409.6,133.07 410.8,133.6 C412,134.13 413.8,134.8 415.3,134.8 C416.8,134.8 418.1,134.37 419.8,133.6 C421.5,132.83 423.6,131.33 425.5,130.2 C427.4,129.07 429.43,127.62 431.2,126.8 C432.97,125.98 434.6,125.37 436.1,125.3 C437.6,125.23 438.83,125.58 440.2,126.4 C441.57,127.22 442.98,128.7 444.3,130.2 C445.62,131.7 446.9,135.17 448.1,135.4 C449.3,135.63 450.17,133.1 451.5,131.6 C452.83,130.1 454.58,127.65 456.1,126.4 C457.62,125.15 459.28,124.28 460.6,124.1 C461.92,123.92 462.87,124.53 464,125.3 C465.13,126.07 466.2,127.77 467.4,128.7 C468.6,129.63 470.07,131.47 471.2,130.9 C472.33,130.33 473.13,127.75 474.2,125.3 C475.27,122.85 476.47,119.03 477.6,116.2 C478.73,113.37 479.77,110.57 481,108.3 C482.23,106.03 483.58,103.85 485,102.6 C486.42,101.35 488.1,100.8 489.5,100.8 C490.9,100.8 492.18,101.53 493.4,102.6 C494.62,103.67 495.55,105.32 496.8,107.2 C498.05,109.08 499.58,111.95 500.9,113.9 C502.22,115.85 503.5,117.83 504.7,118.9 C505.9,119.97 506.78,120.37 508.1,120.3 C509.42,120.23 511.08,119.3 512.6,118.5 C514.12,117.7 515.68,116.33 517.2,115.5 C518.72,114.67 520.38,113.87 521.7,113.5 C523.02,113.13 523.97,113.03 525.1,113.3 C526.23,113.57 527.18,114.05 528.5,115.1 C529.82,116.15 531.5,117.72 533,119.6 C534.5,121.48 536.18,124.63 537.5,126.4 C538.82,128.17 539.83,129.45 540.9,130.2 C541.97,130.95 542.95,131.35 543.9,130.9 C544.85,130.45 545.58,129.2 546.6,127.5 C547.62,125.8 548.68,122.7 550,120.7 C551.32,118.7 553,116.7 554.5,115.5 C556,114.3 557.68,113.68 559,113.5 C560.32,113.32 561.27,113.87 562.4,114.4 C563.53,114.93 564.67,115.65 565.8,116.7 C566.93,117.75 568.13,119.08 569.2,120.7 C570.27,122.32 571.7,125.45 572.2,126.4" stroke="#000" stroke-width="1.35" fill="none" stroke-linejoin="round" clip-path="url(#c11)"/>
<path d="M414.46,140v-2M414.46,82.4v2M420.78,140v-2M420.78,82.4v2M433.42,140v-2M433.42,82.4v2M439.74,140v-2M439.74,82.4v2M446.06,140v-2M446.06,82.4v2M452.38,140v-2M452.38,82.4v2M465.02,140v-2M465.02,82.4v2M471.34,140v-2M471.34,82.4v2M477.66,140v-2M477.66,82.4v2M483.98,140v-2M483.98,82.4v2M496.62,140v-2M496.62,82.4v2M502.94,140v-2M502.94,82.4v2M509.26,140v-2M509.26,82.4v2M515.58,140v-2M515.58,82.4v2M528.22,140v-2M528.22,82.4v2M534.54,140v-2M534.54,82.4v2M540.86,140v-2M540.86,82.4v2M547.18,140v-2M547.18,82.4v2M559.82,140v-2M559.82,82.4v2M566.14,140v-2M566.14,82.4v2M408.3,132.36h2M572.3,132.36h-2M408.3,126.52h2M572.3,126.52h-2M408.3,120.69h2M572.3,120.69h-2M408.3,109.01h2M572.3,109.01h-2M408.3,103.17h2M572.3,103.17h-2M408.3,97.34h2M572.3,97.34h-2M408.3,85.66h2M572.3,85.66h-2" stroke="#5a5a5a" stroke-width="0.6" fill="none" opacity="0.8"/>
<path d="M427.1,140v-3.5M427.1,82.4v3.5M458.7,140v-3.5M458.7,82.4v3.5M490.3,140v-3.5M490.3,82.4v3.5M521.9,140v-3.5M521.9,82.4v3.5M553.5,140v-3.5M553.5,82.4v3.5M408.3,138.2h3.5M572.3,138.2h-3.5M408.3,114.85h3.5M572.3,114.85h-3.5M408.3,91.5h3.5M572.3,91.5h-3.5" stroke="#5a5a5a" stroke-width="0.8" fill="none"/>
<rect x="408.3" y="82.4" width="164" height="57.6" fill="none" stroke="#a0a0a0" stroke-width="1"/>
<text x="394.46" y="95.57" font-size="10.1" textLength="11.91" lengthAdjust="spacingAndGlyphs" fill="#000">40</text>
<text x="394.4" y="119.27" font-size="10.1" textLength="11.97" lengthAdjust="spacingAndGlyphs" fill="#000">20</text>
<text x="400.66" y="142.27" font-size="10.1" textLength="5.7" lengthAdjust="spacingAndGlyphs" fill="#000">0</text>
<clipPath id="c12"><rect x="408.3" y="144.2" width="164" height="57.3"/></clipPath>
<path d="M490.3,144.2V201.5" stroke="#b8b8b8" stroke-width="0.8" stroke-dasharray="1.6,1.4" fill="none"/>
<path d="M408.3,190.2H572.3" stroke="#6f9a2a" stroke-width="0.85" stroke-dasharray="2.1,1.3" fill="none" clip-path="url(#c12)"/>
<path d="M408.1,194.3 C408.93,194.3 411.52,194.42 413.1,194.3 C414.68,194.18 416.1,193.87 417.6,193.6 C419.1,193.33 420.6,192.7 422.1,192.7 C423.6,192.7 425.08,193.07 426.6,193.6 C428.12,194.13 430.07,195.33 431.2,195.9 C432.33,196.47 432.28,197.08 433.4,197 C434.52,196.92 436.38,196.03 437.9,195.4 C439.42,194.77 441.17,193.68 442.5,193.2 C443.83,192.72 444.77,192.5 445.9,192.5 C447.03,192.5 448.17,192.9 449.3,193.2 C450.43,193.5 451.57,194.23 452.7,194.3 C453.83,194.37 454.98,194.17 456.1,193.6 C457.22,193.03 458.08,191.92 459.4,190.9 C460.72,189.88 462.48,188.25 464,187.5 C465.52,186.75 467.18,186.77 468.5,186.4 C469.82,186.03 470.77,186.05 471.9,185.3 C473.03,184.55 474.17,183.42 475.3,181.9 C476.43,180.38 477.57,178.28 478.7,176.2 C479.83,174.12 480.97,171.37 482.1,169.4 C483.23,167.43 484.37,165.53 485.5,164.4 C486.63,163.27 487.77,162.7 488.9,162.6 C490.03,162.5 491.17,162.85 492.3,163.8 C493.43,164.75 494.57,166.05 495.7,168.3 C496.83,170.55 497.98,173.9 499.1,177.3 C500.22,180.7 501.35,185.75 502.4,188.7 C503.45,191.65 504.27,194.37 505.4,195 C506.53,195.63 508.07,194.12 509.2,192.5 C510.33,190.88 511.07,187.45 512.2,185.3 C513.33,183.15 514.8,180.73 516,179.6 C517.2,178.47 518.27,178.38 519.4,178.5 C520.53,178.62 521.67,179.17 522.8,180.3 C523.93,181.43 525.07,183.53 526.2,185.3 C527.33,187.07 528.47,189.58 529.6,190.9 C530.73,192.22 531.87,192.93 533,193.2 C534.13,193.47 535.27,193.07 536.4,192.5 C537.53,191.93 538.48,190.55 539.8,189.8 C541.12,189.05 542.8,188.08 544.3,188 C545.8,187.92 547.48,188.43 548.8,189.3 C550.12,190.17 551.13,191.92 552.2,193.2 C553.27,194.48 554.07,197.12 555.2,197 C556.33,196.88 557.8,194.08 559,192.5 C560.2,190.92 561.27,188.97 562.4,187.5 C563.53,186.03 564.67,184.63 565.8,183.7 C566.93,182.77 568.13,182.2 569.2,181.9 C570.27,181.6 571.7,181.9 572.2,181.9" stroke="#000" stroke-width="1.35" fill="none" stroke-linejoin="round" clip-path="url(#c12)"/>
<path d="M414.46,201.5v-2M414.46,144.2v2M420.78,201.5v-2M420.78,144.2v2M433.42,201.5v-2M433.42,144.2v2M439.74,201.5v-2M439.74,144.2v2M446.06,201.5v-2M446.06,144.2v2M452.38,201.5v-2M452.38,144.2v2M465.02,201.5v-2M465.02,144.2v2M471.34,201.5v-2M471.34,144.2v2M477.66,201.5v-2M477.66,144.2v2M483.98,201.5v-2M483.98,144.2v2M496.62,201.5v-2M496.62,144.2v2M502.94,201.5v-2M502.94,144.2v2M509.26,201.5v-2M509.26,144.2v2M515.58,201.5v-2M515.58,144.2v2M528.22,201.5v-2M528.22,144.2v2M534.54,201.5v-2M534.54,144.2v2M540.86,201.5v-2M540.86,144.2v2M547.18,201.5v-2M547.18,144.2v2M559.82,201.5v-2M559.82,144.2v2M566.14,201.5v-2M566.14,144.2v2M408.3,194.68h2M572.3,194.68h-2M408.3,189.56h2M572.3,189.56h-2M408.3,184.44h2M572.3,184.44h-2M408.3,179.32h2M572.3,179.32h-2M408.3,169.08h2M572.3,169.08h-2M408.3,163.96h2M572.3,163.96h-2M408.3,158.84h2M572.3,158.84h-2M408.3,153.72h2M572.3,153.72h-2" stroke="#5a5a5a" stroke-width="0.6" fill="none" opacity="0.8"/>
<path d="M427.1,201.5v-3.5M427.1,144.2v3.5M458.7,201.5v-3.5M458.7,144.2v3.5M490.3,201.5v-3.5M490.3,144.2v3.5M521.9,201.5v-3.5M521.9,144.2v3.5M553.5,201.5v-3.5M553.5,144.2v3.5M408.3,199.8h3.5M572.3,199.8h-3.5M408.3,174.2h3.5M572.3,174.2h-3.5M408.3,148.6h3.5M572.3,148.6h-3.5" stroke="#5a5a5a" stroke-width="0.8" fill="none"/>
<rect x="408.3" y="144.2" width="164" height="57.3" fill="none" stroke="#a0a0a0" stroke-width="1"/>
<text x="388.29" y="152.57" font-size="10.1" textLength="18.09" lengthAdjust="spacingAndGlyphs" fill="#000">100</text>
<text x="394.56" y="178.07" font-size="10.1" textLength="11.81" lengthAdjust="spacingAndGlyphs" fill="#000">50</text>
<text x="400.66" y="203.87" font-size="10.1" textLength="5.7" lengthAdjust="spacingAndGlyphs" fill="#000">0</text>
<clipPath id="c13"><rect x="595" y="20.5" width="163.9" height="57.7"/></clipPath>
<path d="M677,20.5V78.2" stroke="#b8b8b8" stroke-width="0.8" stroke-dasharray="1.6,1.4" fill="none"/>
<path d="M595,56.2H758.9" stroke="#6f9a2a" stroke-width="0.85" stroke-dasharray="2.1,1.3" fill="none" clip-path="url(#c13)"/>
<path d="M594.8,62.8 C595.55,62.5 597.8,61.45 599.3,61 C600.8,60.55 602.28,60.02 603.8,60.1 C605.32,60.18 606.88,60.67 608.4,61.5 C609.92,62.33 611.28,63.98 612.9,65.1 C614.52,66.22 616.6,68.32 618.1,68.2 C619.6,68.08 620.5,66.17 621.9,64.4 C623.3,62.63 624.98,59.48 626.5,57.6 C628.02,55.72 629.68,53.93 631,53.1 C632.32,52.27 633.27,52.33 634.4,52.6 C635.53,52.87 636.48,53.48 637.8,54.7 C639.12,55.92 640.8,58.47 642.3,59.9 C643.8,61.33 645.1,62.67 646.8,63.3 C648.5,63.93 650.8,63.25 652.5,63.7 C654.2,64.15 655.6,65.43 657,66 C658.4,66.57 659.77,67.55 660.9,67.1 C662.03,66.65 662.75,65.45 663.8,63.3 C664.85,61.15 666.07,57.15 667.2,54.2 C668.33,51.25 669.47,47.87 670.6,45.6 C671.73,43.33 672.98,41.7 674,40.6 C675.02,39.5 675.75,39 676.7,39 C677.65,39 678.63,39.38 679.7,40.6 C680.77,41.82 681.98,43.65 683.1,46.3 C684.22,48.95 685.35,53.1 686.4,56.5 C687.45,59.9 688.52,64.13 689.4,66.7 C690.28,69.27 690.87,71.65 691.7,71.9 C692.53,72.15 693.2,70.02 694.4,68.2 C695.6,66.38 697.47,62.58 698.9,61 C700.33,59.42 701.68,58.7 703,58.7 C704.32,58.7 705.42,59.98 706.8,61 C708.18,62.02 709.98,64.42 711.3,64.8 C712.62,65.18 713.37,64.32 714.7,63.3 C716.03,62.28 717.78,59.92 719.3,58.7 C720.82,57.48 722.48,56.3 723.8,56 C725.12,55.7 726.07,56.07 727.2,56.9 C728.33,57.73 729.47,59.27 730.6,61 C731.73,62.73 732.87,65.42 734,67.3 C735.13,69.18 736.27,71.77 737.4,72.3 C738.53,72.83 739.67,71.33 740.8,70.5 C741.93,69.67 742.88,68.05 744.2,67.3 C745.52,66.55 747.38,66 748.7,66 C750.02,66 750.97,66.7 752.1,67.3 C753.23,67.9 754.37,68.88 755.5,69.6 C756.63,70.32 758.33,71.27 758.9,71.6" stroke="#000" stroke-width="1.35" fill="none" stroke-linejoin="round" clip-path="url(#c13)"/>
<path d="M601.16,78.2v-2M601.16,20.5v2M607.48,78.2v-2M607.48,20.5v2M620.12,78.2v-2M620.12,20.5v2M626.44,78.2v-2M626.44,20.5v2M632.76,78.2v-2M632.76,20.5v2M639.08,78.2v-2M639.08,20.5v2M651.72,78.2v-2M651.72,20.5v2M658.04,78.2v-2M658.04,20.5v2M664.36,78.2v-2M664.36,20.5v2M670.68,78.2v-2M670.68,20.5v2M683.32,78.2v-2M683.32,20.5v2M689.64,78.2v-2M689.64,20.5v2M695.96,78.2v-2M695.96,20.5v2M702.28,78.2v-2M702.28,20.5v2M714.92,78.2v-2M714.92,20.5v2M721.24,78.2v-2M721.24,20.5v2M727.56,78.2v-2M727.56,20.5v2M733.88,78.2v-2M733.88,20.5v2M746.52,78.2v-2M746.52,20.5v2M752.84,78.2v-2M752.84,20.5v2M595,71.35h2M758.9,71.35h-2M595,65.9h2M758.9,65.9h-2M595,60.45h2M758.9,60.45h-2M595,49.55h2M758.9,49.55h-2M595,44.1h2M758.9,44.1h-2M595,38.65h2M758.9,38.65h-2M595,27.75h2M758.9,27.75h-2M595,22.3h2M758.9,22.3h-2" stroke="#5a5a5a" stroke-width="0.6" fill="none" opacity="0.8"/>
<path d="M613.8,78.2v-3.5M613.8,20.5v3.5M645.4,78.2v-3.5M645.4,20.5v3.5M677,78.2v-3.5M677,20.5v3.5M708.6,78.2v-3.5M708.6,20.5v3.5M740.2,78.2v-3.5M740.2,20.5v3.5M595,76.8h3.5M758.9,76.8h-3.5M595,55h3.5M758.9,55h-3.5M595,33.2h3.5M758.9,33.2h-3.5" stroke="#5a5a5a" stroke-width="0.8" fill="none"/>
<rect x="595" y="20.5" width="163.9" height="57.7" fill="none" stroke="#a0a0a0" stroke-width="1"/>
<text x="581.06" y="37.37" font-size="10.1" textLength="11.91" lengthAdjust="spacingAndGlyphs" fill="#000">40</text>
<text x="581" y="59.27" font-size="10.1" textLength="11.97" lengthAdjust="spacingAndGlyphs" fill="#000">20</text>
<text x="587.26" y="80.87" font-size="10.1" textLength="5.7" lengthAdjust="spacingAndGlyphs" fill="#000">0</text>
<clipPath id="c14"><rect x="595" y="82.4" width="163.9" height="57.6"/></clipPath>
<path d="M677,82.4V140" stroke="#b8b8b8" stroke-width="0.8" stroke-dasharray="1.6,1.4" fill="none"/>
<path d="M595,123H758.9" stroke="#6f9a2a" stroke-width="0.85" stroke-dasharray="2.1,1.3" fill="none" clip-path="url(#c14)"/>
<path d="M594.8,135.4 C595.18,135.6 596.17,136.9 597.1,136.6 C598.03,136.3 599.08,134.43 600.4,133.6 C601.72,132.77 603.6,131.78 605,131.6 C606.4,131.42 607.57,131.87 608.8,132.5 C610.03,133.13 611.15,135.4 612.4,135.4 C613.65,135.4 614.9,134.18 616.3,132.5 C617.7,130.82 619.3,127.27 620.8,125.3 C622.3,123.33 623.98,121.77 625.3,120.7 C626.62,119.63 627.57,118.9 628.7,118.9 C629.83,118.9 630.97,119.75 632.1,120.7 C633.23,121.65 634.28,123.38 635.5,124.6 C636.72,125.82 638.08,128.08 639.4,128 C640.72,127.92 642.17,125.88 643.4,124.1 C644.63,122.32 645.67,119.25 646.8,117.3 C647.93,115.35 648.98,113.63 650.2,112.4 C651.42,111.17 652.77,110.2 654.1,109.9 C655.43,109.6 656.85,110.3 658.2,110.6 C659.55,110.9 660.88,111.9 662.2,111.7 C663.52,111.5 664.82,110.47 666.1,109.4 C667.38,108.33 668.67,106.53 669.9,105.3 C671.13,104.07 672.43,102.72 673.5,102 C674.57,101.28 675.38,101 676.3,101 C677.22,101 677.95,100.97 679,102 C680.05,103.03 681.47,105.02 682.6,107.2 C683.73,109.38 684.7,112.08 685.8,115.1 C686.9,118.12 688.15,122.4 689.2,125.3 C690.25,128.2 691.05,131.37 692.1,132.5 C693.15,133.63 694.37,133.3 695.5,132.1 C696.63,130.9 697.58,127 698.9,125.3 C700.22,123.6 701.88,122.1 703.4,121.9 C704.92,121.7 706.57,122.72 708,124.1 C709.43,125.48 710.8,128.62 712,130.2 C713.2,131.78 714.07,133.6 715.2,133.6 C716.33,133.6 717.55,131.97 718.8,130.2 C720.05,128.43 721.3,125.25 722.7,123 C724.1,120.75 725.7,118.13 727.2,116.7 C728.7,115.27 730.2,114.48 731.7,114.4 C733.2,114.32 734.68,115.15 736.2,116.2 C737.72,117.25 739.28,119 740.8,120.7 C742.32,122.4 743.92,124.58 745.3,126.4 C746.68,128.22 747.78,130.17 749.1,131.6 C750.42,133.03 751.57,134.17 753.2,135 C754.83,135.83 757.95,136.33 758.9,136.6" stroke="#000" stroke-width="1.35" fill="none" stroke-linejoin="round" clip-path="url(#c14)"/>
<path d="M601.16,140v-2M601.16,82.4v2M607.48,140v-2M607.48,82.4v2M620.12,140v-2M620.12,82.4v2M626.44,140v-2M626.44,82.4v2M632.76,140v-2M632.76,82.4v2M639.08,140v-2M639.08,82.4v2M651.72,140v-2M651.72,82.4v2M658.04,140v-2M658.04,82.4v2M664.36,140v-2M664.36,82.4v2M670.68,140v-2M670.68,82.4v2M683.32,140v-2M683.32,82.4v2M689.64,140v-2M689.64,82.4v2M695.96,140v-2M695.96,82.4v2M702.28,140v-2M702.28,82.4v2M714.92,140v-2M714.92,82.4v2M721.24,140v-2M721.24,82.4v2M727.56,140v-2M727.56,82.4v2M733.88,140v-2M733.88,82.4v2M746.52,140v-2M746.52,82.4v2M752.84,140v-2M752.84,82.4v2M595,134.3h2M758.9,134.3h-2M595,130.3h2M758.9,130.3h-2M595,126.3h2M758.9,126.3h-2M595,122.3h2M758.9,122.3h-2M595,114.3h2M758.9,114.3h-2M595,110.3h2M758.9,110.3h-2M595,106.3h2M758.9,106.3h-2M595,102.3h2M758.9,102.3h-2M595,94.3h2M758.9,94.3h-2M595,90.3h2M758.9,90.3h-2M595,86.3h2M758.9,86.3h-2" stroke="#5a5a5a" stroke-width="0.6" fill="none" opacity="0.8"/>
<path d="M613.8,140v-3.5M613.8,82.4v3.5M645.4,140v-3.5M645.4,82.4v3.5M677,140v-3.5M677,82.4v3.5M708.6,140v-3.5M708.6,82.4v3.5M740.2,140v-3.5M740.2,82.4v3.5M595,138.3h3.5M758.9,138.3h-3.5M595,118.3h3.5M758.9,118.3h-3.5M595,98.3h3.5M758.9,98.3h-3.5" stroke="#5a5a5a" stroke-width="0.8" fill="none"/>
<rect x="595" y="82.4" width="163.9" height="57.6" fill="none" stroke="#a0a0a0" stroke-width="1"/>
<text x="581.16" y="102.37" font-size="10.1" textLength="11.81" lengthAdjust="spacingAndGlyphs" fill="#000">50</text>
<text x="581.01" y="122.37" font-size="10.1" textLength="11.78" lengthAdjust="spacingAndGlyphs" fill="#000">25</text>
<text x="587.26" y="142.37" font-size="10.1" textLength="5.7" lengthAdjust="spacingAndGlyphs" fill="#000">0</text>
<clipPath id="c15"><rect x="595" y="144.2" width="163.9" height="57.3"/></clipPath>
<path d="M677,144.2V201.5" stroke="#b8b8b8" stroke-width="0.8" stroke-dasharray="1.6,1.4" fill="none"/>
<path d="M595,173.3H758.9" stroke="#6f9a2a" stroke-width="0.85" stroke-dasharray="2.1,1.3" fill="none" clip-path="url(#c15)"/>
<path d="M594.8,178.5 C595.25,178.05 596.57,176.25 597.5,175.8 C598.43,175.35 599.35,175.17 600.4,175.8 C601.45,176.43 602.67,177.83 603.8,179.6 C604.93,181.37 606.17,184.63 607.2,186.4 C608.23,188.17 608.98,190.32 610,190.2 C611.02,190.08 612.13,188.42 613.3,185.7 C614.47,182.98 615.75,177.18 617,173.9 C618.25,170.62 619.52,167.88 620.8,166 C622.08,164.12 623.68,163.17 624.7,162.6 C625.72,162.03 626.03,162.3 626.9,162.6 C627.77,162.9 628.83,163.27 629.9,164.4 C630.97,165.53 631.98,167.05 633.3,169.4 C634.62,171.75 636.3,175.48 637.8,178.5 C639.3,181.52 640.72,184.87 642.3,187.5 C643.88,190.13 645.6,192.67 647.3,194.3 C649,195.93 650.88,197.12 652.5,197.3 C654.12,197.48 655.48,196.65 657,195.4 C658.52,194.15 660.08,192.05 661.6,189.8 C663.12,187.55 664.6,184.47 666.1,181.9 C667.6,179.33 669.1,176.28 670.6,174.4 C672.1,172.52 673.78,171.35 675.1,170.6 C676.42,169.85 677.37,169.72 678.5,169.9 C679.63,170.08 680.77,170.65 681.9,171.7 C683.03,172.75 684.05,173.93 685.3,176.2 C686.55,178.47 688.08,182.28 689.4,185.3 C690.72,188.32 692,192.8 693.2,194.3 C694.4,195.8 695.38,195.43 696.6,194.3 C697.82,193.17 699.17,189.77 700.5,187.5 C701.83,185.23 703.17,182.28 704.6,180.7 C706.03,179.12 707.72,178.37 709.1,178 C710.48,177.63 711.58,177.67 712.9,178.5 C714.22,179.33 715.57,181.12 717,183 C718.43,184.88 719.98,187.98 721.5,189.8 C723.02,191.62 724.88,193.03 726.1,193.9 C727.32,194.77 727.68,195.23 728.8,195 C729.92,194.77 731.37,193.18 732.8,192.5 C734.23,191.82 735.97,190.9 737.4,190.9 C738.83,190.9 740.08,191.63 741.4,192.5 C742.72,193.37 744.27,195.23 745.3,196.1 C746.33,196.97 746.65,198 747.6,197.7 C748.55,197.4 749.88,195.55 751,194.3 C752.12,193.05 752.98,191.33 754.3,190.2 C755.62,189.07 758.13,187.95 758.9,187.5" stroke="#000" stroke-width="1.35" fill="none" stroke-linejoin="round" clip-path="url(#c15)"/>
<path d="M601.16,201.5v-2M601.16,144.2v2M607.48,201.5v-2M607.48,144.2v2M620.12,201.5v-2M620.12,144.2v2M626.44,201.5v-2M626.44,144.2v2M632.76,201.5v-2M632.76,144.2v2M639.08,201.5v-2M639.08,144.2v2M651.72,201.5v-2M651.72,144.2v2M658.04,201.5v-2M658.04,144.2v2M664.36,201.5v-2M664.36,144.2v2M670.68,201.5v-2M670.68,144.2v2M683.32,201.5v-2M683.32,144.2v2M689.64,201.5v-2M689.64,144.2v2M695.96,201.5v-2M695.96,144.2v2M702.28,201.5v-2M702.28,144.2v2M714.92,201.5v-2M714.92,144.2v2M721.24,201.5v-2M721.24,144.2v2M727.56,201.5v-2M727.56,144.2v2M733.88,201.5v-2M733.88,144.2v2M746.52,201.5v-2M746.52,144.2v2M752.84,201.5v-2M752.84,144.2v2M595,193.14h2M758.9,193.14h-2M595,186.07h2M758.9,186.07h-2M595,179.01h2M758.9,179.01h-2M595,164.89h2M758.9,164.89h-2M595,157.82h2M758.9,157.82h-2M595,150.76h2M758.9,150.76h-2" stroke="#5a5a5a" stroke-width="0.6" fill="none" opacity="0.8"/>
<path d="M613.8,201.5v-3.5M613.8,144.2v3.5M645.4,201.5v-3.5M645.4,144.2v3.5M677,201.5v-3.5M677,144.2v3.5M708.6,201.5v-3.5M708.6,144.2v3.5M740.2,201.5v-3.5M740.2,144.2v3.5M595,200.2h3.5M758.9,200.2h-3.5M595,171.95h3.5M758.9,171.95h-3.5" stroke="#5a5a5a" stroke-width="0.8" fill="none"/>
<rect x="595" y="144.2" width="163.9" height="57.3" fill="none" stroke="#a0a0a0" stroke-width="1"/>
<text x="581" y="176.07" font-size="10.1" textLength="11.97" lengthAdjust="spacingAndGlyphs" fill="#000">20</text>
<text x="587.26" y="204.27" font-size="10.1" textLength="5.7" lengthAdjust="spacingAndGlyphs" fill="#000">0</text>
<path d="M460.5,32.9V36.3M490,32.9V36.3" stroke="#222" stroke-width="1.1" fill="none"/>
<path d="M462.1,34.6H488.4" stroke="#333" stroke-width="0.7" fill="none"/>
<path d="M465,33.05L462.1,34.6L465,36.15M485.5,33.05L488.4,34.6L485.5,36.15" stroke="#222" stroke-width="1.0" fill="none" stroke-linejoin="miter"/>
<text x="464.14" y="29.85" font-size="10.6" textLength="29.2" lengthAdjust="spacingAndGlyphs" fill="#000">0.234</text>
<path d="M490,94.5V97.9M519.5,94.5V97.9" stroke="#222" stroke-width="1.1" fill="none"/>
<path d="M491.6,96.2H517.9" stroke="#333" stroke-width="0.7" fill="none"/>
<path d="M494.5,94.65L491.6,96.2L494.5,97.75M515,94.65L517.9,96.2L515,97.75" stroke="#222" stroke-width="1.0" fill="none" stroke-linejoin="miter"/>
<text x="493.44" y="91.95" font-size="10.6" textLength="29.48" lengthAdjust="spacingAndGlyphs" fill="#000">0.233</text>
<path d="M490,156.1V159.5M518.3,156.1V159.5" stroke="#222" stroke-width="1.1" fill="none"/>
<path d="M491.6,157.8H516.7" stroke="#333" stroke-width="0.7" fill="none"/>
<path d="M494.5,156.25L491.6,157.8L494.5,159.35M513.8,156.25L516.7,157.8L513.8,159.35" stroke="#222" stroke-width="1.0" fill="none" stroke-linejoin="miter"/>
<text x="492.64" y="153.95" font-size="10.6" textLength="29.56" lengthAdjust="spacingAndGlyphs" fill="#000">0.235</text>
<path d="M633.8,32.9V36.3M677,32.9V36.3" stroke="#222" stroke-width="1.1" fill="none"/>
<path d="M635.4,34.6H675.4" stroke="#333" stroke-width="0.7" fill="none"/>
<path d="M638.3,33.05L635.4,34.6L638.3,36.15M672.5,33.05L675.4,34.6L672.5,36.15" stroke="#222" stroke-width="1.0" fill="none" stroke-linejoin="miter"/>
<text x="643.85" y="29.85" font-size="10.6" textLength="29.14" lengthAdjust="spacingAndGlyphs" fill="#000">0.342</text>
<path d="M628.3,94.5V97.9M677,94.5V97.9" stroke="#222" stroke-width="1.1" fill="none"/>
<path d="M629.9,96.2H675.4" stroke="#333" stroke-width="0.7" fill="none"/>
<path d="M632.8,94.65L629.9,96.2L632.8,97.75M672.5,94.65L675.4,96.2L672.5,97.75" stroke="#222" stroke-width="1.0" fill="none" stroke-linejoin="miter"/>
<path d="M677,94.5V97.9M733.8,94.5V97.9" stroke="#222" stroke-width="1.1" fill="none"/>
<path d="M678.6,96.2H732.2" stroke="#333" stroke-width="0.7" fill="none"/>
<path d="M681.5,94.65L678.6,96.2L681.5,97.75M729.3,94.65L732.2,96.2L729.3,97.75" stroke="#222" stroke-width="1.0" fill="none" stroke-linejoin="miter"/>
<text x="640.84" y="91.95" font-size="10.6" textLength="29.4" lengthAdjust="spacingAndGlyphs" fill="#000">0.384</text>
<text x="693.84" y="91.95" font-size="10.6" textLength="29.58" lengthAdjust="spacingAndGlyphs" fill="#000">0.456</text>
<path d="M627,156.1V159.5M677,156.1V159.5" stroke="#222" stroke-width="1.1" fill="none"/>
<path d="M628.6,157.8H675.4" stroke="#333" stroke-width="0.7" fill="none"/>
<path d="M631.5,156.25L628.6,157.8L631.5,159.35M672.5,156.25L675.4,157.8L672.5,159.35" stroke="#222" stroke-width="1.0" fill="none" stroke-linejoin="miter"/>
<text x="640.34" y="153.95" font-size="10.6" textLength="29.58" lengthAdjust="spacingAndGlyphs" fill="#000">0.396</text>
<text x="508.8" y="44.88" font-size="10.4" textLength="43.48" lengthAdjust="spacingAndGlyphs" fill="#9b4fa8">89.5μHz</text>
<text x="508.71" y="107.38" font-size="10.4" textLength="50.07" lengthAdjust="spacingAndGlyphs" fill="#9b4fa8">622.8μHz</text>
<text x="508.71" y="169.18" font-size="10.4" textLength="50.07" lengthAdjust="spacingAndGlyphs" fill="#9b4fa8">697.6μHz</text>
<text x="695.86" y="44.88" font-size="10.4" textLength="55.91" lengthAdjust="spacingAndGlyphs" fill="#9b4fa8">3706.1μHz</text>
<text x="695.86" y="106.88" font-size="10.4" textLength="55.91" lengthAdjust="spacingAndGlyphs" fill="#9b4fa8">3720.8μHz</text>
<text x="695.86" y="168.88" font-size="10.4" textLength="55.91" lengthAdjust="spacingAndGlyphs" fill="#9b4fa8">3742.4μHz</text>
<clipPath id="c16"><rect x="408.3" y="205.8" width="164" height="57.3"/></clipPath>
<path d="M458.4,261.5L458.25,253.02L458.5,249.85L458.75,246.1L459,241.9L459.25,237.43L459.5,232.98L459.75,228.86L460,225.43L460.25,222.99L460.5,221.78L460.75,221.91L461,223.39L461.25,226.05L461.5,229.65L461.75,233.86L462,238.34L462.25,242.77L462.5,246.9L462.75,250.53L462.8,261.5Z" fill="#c4c4c4"/>
<path d="M488,261.5L488,255.26L488.1,254.71L488.2,254.1L488.3,253.44L488.4,252.71L488.5,251.9L488.6,251.02L488.7,250.05L488.8,248.98L488.9,247.82L489,246.55L489.1,245.17L489.2,243.67L489.3,242.08L489.4,240.39L489.5,238.64L489.6,236.85L489.7,235.07L489.8,233.36L489.9,231.81L490,230.48L490.1,229.46L490.2,228.82L490.3,228.6L490.4,228.82L490.5,229.46L490.6,230.48L490.7,231.81L490.8,233.36L490.9,235.07L491,236.85L491.1,238.64L491.2,240.39L491.3,242.08L491.4,243.67L491.5,245.17L491.6,246.55L491.7,247.82L491.8,248.98L491.9,250.05L492,251.02L492.1,251.9L492.2,252.71L492.3,253.44L492.4,254.1L492.5,254.71L492.6,261.5Z" fill="#c4c4c4"/>
<path d="M408.3,261.5 C416.17,261.5 447.62,261.51 455.5,261.5 C463.38,261.49 455.54,261.47 455.6,261.46 C455.66,261.44 455.77,261.44 455.85,261.42 C455.93,261.4 456.02,261.38 456.1,261.34 C456.18,261.31 456.27,261.27 456.35,261.21 C456.43,261.16 456.52,261.09 456.6,261 C456.68,260.9 456.77,260.8 456.85,260.65 C456.93,260.49 457.02,260.32 457.1,260.09 C457.18,259.86 457.27,259.6 457.35,259.27 C457.43,258.93 457.52,258.55 457.6,258.07 C457.68,257.6 457.77,257.06 457.85,256.41 C457.93,255.77 458.02,255.04 458.1,254.21 C458.18,253.37 458.27,252.44 458.35,251.4 C458.43,250.36 458.52,249.21 458.6,247.98 C458.68,246.75 458.77,245.41 458.85,244.02 C458.93,242.63 459.02,241.14 459.1,239.65 C459.18,238.17 459.27,236.61 459.35,235.12 C459.43,233.63 459.52,232.11 459.6,230.72 C459.68,229.33 459.77,227.96 459.85,226.79 C459.93,225.62 460.02,224.54 460.1,223.68 C460.18,222.83 460.27,222.14 460.35,221.69 C460.43,221.24 460.52,221 460.6,221 C460.68,221 460.77,221.24 460.85,221.69 C460.93,222.14 461.02,222.83 461.1,223.68 C461.18,224.54 461.27,225.62 461.35,226.79 C461.43,227.96 461.52,229.33 461.6,230.72 C461.68,232.11 461.77,233.63 461.85,235.12 C461.93,236.61 462.02,238.17 462.1,239.65 C462.18,241.14 462.27,242.63 462.35,244.02 C462.43,245.41 462.52,246.75 462.6,247.98 C462.68,249.21 462.77,250.36 462.85,251.4 C462.93,252.44 463.02,253.37 463.1,254.21 C463.18,255.04 463.27,255.77 463.35,256.41 C463.43,257.06 463.52,257.6 463.6,258.07 C463.68,258.55 463.77,258.93 463.85,259.27 C463.93,259.6 464.02,259.86 464.1,260.09 C464.18,260.32 464.27,260.49 464.35,260.65 C464.43,260.8 464.52,260.9 464.6,261 C464.68,261.09 464.77,261.16 464.85,261.21 C464.93,261.27 465.02,261.31 465.1,261.34 C465.18,261.38 465.27,261.4 465.35,261.42 C465.43,261.44 465.53,261.44 465.6,261.46 C465.68,261.47 448.02,261.49 465.8,261.5 C483.58,261.51 554.55,261.5 572.3,261.5" stroke="#2c3e50" stroke-width="1.5" fill="none" stroke-linejoin="round" clip-path="url(#c16)"/>
<path d="M408.3,261.5 L484.2,261.5 L484.3,261.5 L484.4,261.5 L484.5,261.5 L484.6,261.5 L484.7,261.5 L484.8,261.44 L484.9,261.38 L485,261.32 L485.1,261.25 L485.2,261.18 L485.3,261.11 L485.4,261.03 L485.5,260.95 L485.6,260.86 L485.7,260.76 L485.8,260.67 L485.9,260.56 L486,260.45 L486.1,260.33 L486.2,260.2 L486.3,260.07 L486.4,259.92 L486.5,259.77 L486.6,259.6 L486.7,259.42 L486.8,259.23 L486.9,259.03 L487,258.81 L487.1,258.57 L487.2,258.31 L487.3,258.03 L487.4,257.73 L487.5,257.4 L487.6,257.04 L487.7,256.65 L487.8,256.23 L487.9,255.77 L488,255.26 L488.1,254.71 L488.2,254.1 L488.3,253.44 L488.4,252.71 L488.5,251.9 L488.6,251.02 L488.7,250.05 L488.8,248.98 L488.9,247.82 L489,246.55 L489.1,245.17 L489.2,243.67 L489.3,242.08 L489.4,240.39 L489.5,238.64 L489.6,236.85 L489.7,235.07 L489.8,233.36 L489.9,231.81 L490,230.48 L490.1,229.46 L490.2,228.82 L490.3,228.6 L490.4,228.82 L490.5,229.46 L490.6,230.48 L490.7,231.81 L490.8,233.36 L490.9,235.07 L491,236.85 L491.1,238.64 L491.2,240.39 L491.3,242.08 L491.4,243.67 L491.5,245.17 L491.6,246.55 L491.7,247.82 L491.8,248.98 L491.9,250.05 L492,251.02 L492.1,251.9 L492.2,252.71 L492.3,253.44 L492.4,254.1 L492.5,254.71 L492.6,255.26 L492.7,255.77 L492.8,256.23 L492.9,256.65 L493,257.04 L493.1,257.4 L493.2,257.73 L493.3,258.03 L493.4,258.31 L493.5,258.57 L493.6,258.81 L493.7,259.03 L493.8,259.23 L493.9,259.42 L494,259.6 L494.1,259.77 L494.2,259.92 L494.3,260.07 L494.4,260.2 L494.5,260.33 L494.6,260.45 L494.7,260.56 L494.8,260.67 L494.9,260.76 L495,260.86 L495.1,260.95 L495.2,261.03 L495.3,261.11 L495.4,261.18 L495.5,261.25 L495.6,261.32 L495.7,261.38 L495.8,261.44 L495.9,261.5 L496,261.5 L496.1,261.5 L496.2,261.5 L496.3,261.5 L496.4,261.5 L572.3,261.5" stroke="#6b8e23" stroke-width="1.5" fill="none" clip-path="url(#c16)"/>
<path d="M414.46,263.1v-2M414.46,205.8v2M420.78,263.1v-2M420.78,205.8v2M433.42,263.1v-2M433.42,205.8v2M439.74,263.1v-2M439.74,205.8v2M446.06,263.1v-2M446.06,205.8v2M452.38,263.1v-2M452.38,205.8v2M465.02,263.1v-2M465.02,205.8v2M471.34,263.1v-2M471.34,205.8v2M477.66,263.1v-2M477.66,205.8v2M483.98,263.1v-2M483.98,205.8v2M496.62,263.1v-2M496.62,205.8v2M502.94,263.1v-2M502.94,205.8v2M509.26,263.1v-2M509.26,205.8v2M515.58,263.1v-2M515.58,205.8v2M528.22,263.1v-2M528.22,205.8v2M534.54,263.1v-2M534.54,205.8v2M540.86,263.1v-2M540.86,205.8v2M547.18,263.1v-2M547.18,205.8v2M559.82,263.1v-2M559.82,205.8v2M566.14,263.1v-2M566.14,205.8v2M408.3,256.27h2M572.3,256.27h-2M408.3,251.04h2M572.3,251.04h-2M408.3,245.81h2M572.3,245.81h-2M408.3,240.58h2M572.3,240.58h-2M408.3,230.12h2M572.3,230.12h-2M408.3,224.89h2M572.3,224.89h-2M408.3,219.66h2M572.3,219.66h-2M408.3,214.43h2M572.3,214.43h-2" stroke="#5a5a5a" stroke-width="0.6" fill="none" opacity="0.8"/>
<path d="M427.1,263.1v-3.5M427.1,205.8v3.5M458.7,263.1v-3.5M458.7,205.8v3.5M490.3,263.1v-3.5M490.3,205.8v3.5M521.9,263.1v-3.5M521.9,205.8v3.5M553.5,263.1v-3.5M553.5,205.8v3.5M408.3,261.5h3.5M572.3,261.5h-3.5M408.3,235.35h3.5M572.3,235.35h-3.5M408.3,209.2h3.5M572.3,209.2h-3.5" stroke="#5a5a5a" stroke-width="0.8" fill="none"/>
<rect x="408.3" y="205.8" width="164" height="57.3" fill="none" stroke="#a0a0a0" stroke-width="1"/>
<text x="388.21" y="213.37" font-size="10.1" textLength="18.17" lengthAdjust="spacingAndGlyphs" fill="#000">200</text>
<text x="388.29" y="239.57" font-size="10.1" textLength="18.09" lengthAdjust="spacingAndGlyphs" fill="#000">100</text>
<text x="400.66" y="265.67" font-size="10.1" textLength="5.7" lengthAdjust="spacingAndGlyphs" fill="#000">0</text>
<text x="412.67" y="273.27" font-size="10.1" textLength="29.13" lengthAdjust="spacingAndGlyphs" fill="#000">−0.50</text>
<text x="444.27" y="273.27" font-size="10.1" textLength="28.95" lengthAdjust="spacingAndGlyphs" fill="#000">−0.25</text>
<text x="479.69" y="273.27" font-size="10.1" textLength="21.21" lengthAdjust="spacingAndGlyphs" fill="#000">0.00</text>
<text x="511.3" y="273.27" font-size="10.1" textLength="21.03" lengthAdjust="spacingAndGlyphs" fill="#000">0.25</text>
<text x="542.89" y="273.27" font-size="10.1" textLength="21.21" lengthAdjust="spacingAndGlyphs" fill="#000">0.50</text>
<clipPath id="c17"><rect x="595" y="205.8" width="163.9" height="57.3"/></clipPath>
<path d="M619.3,261.7L619.25,250.34L619.5,250.98L619.75,251.62L620,252.48L620.25,253.7L620.5,254.91L620.75,256.12L621,257.33L621.25,258.38L621.5,258.77L621.75,259.16L622,259.56L622.25,259.95L622.5,260.34L622.75,260.25L623,259.82L623.25,259.4L623.5,258.98L623.75,258.55L624,257.79L624.25,256.5L624.5,255.21L624.75,253.93L625,252.64L625.25,251.36L625.5,250.33L625.75,249.37L626,248.41L626.25,247.45L626.5,246.48L626.75,246.25L627,246.5L627.25,246.75L627.5,247L627.75,247.25L628,247.5L628.25,248.54L628.5,249.58L628.75,250.62L629,251.65L629.25,252.69L629.5,253.21L629.75,253.61L630,254L630.25,254.39L630.5,254.79L630.75,255.07L631,254.89L631.25,254.72L631.5,254.55L631.75,254.37L632,254.2L632.25,254L632.5,253.81L632.75,253.61L633,253.41L633.25,253.22L633.5,253.22L633.75,253.53L634,253.84L634,261.7Z" fill="#c4c4c4"/>
<path d="M674.7,261.7L674.7,257.35L674.8,256.82L674.9,256.22L675,255.56L675.1,254.83L675.2,254.01L675.3,253.08L675.4,252.05L675.5,250.89L675.6,249.58L675.7,248.1L675.8,246.45L675.9,244.59L676,242.53L676.1,240.25L676.2,237.76L676.3,235.09L676.4,232.3L676.5,229.49L676.6,226.79L676.7,224.39L676.8,222.47L676.9,221.23L677,220.8L677.1,221.23L677.2,222.47L677.3,224.39L677.4,226.79L677.5,229.49L677.6,232.3L677.7,235.09L677.8,237.76L677.9,240.25L678,242.53L678.1,244.59L678.2,246.45L678.3,248.1L678.4,249.58L678.5,250.89L678.6,252.05L678.7,253.08L678.8,254.01L678.9,254.83L679,255.57L679.1,256.22L679.2,256.82L679.3,261.7Z" fill="#c4c4c4"/>
<path d="M595,261.6 C598.17,261.6 610.6,261.78 614,261.6 C617.4,261.42 614.95,261.28 615.4,260.5 C615.85,259.72 616.25,258.4 616.7,256.9 C617.15,255.4 617.72,252.78 618.1,251.5 C618.48,250.22 618.7,249.2 619,249.2 C619.3,249.2 619.53,250.07 619.9,251.5 C620.27,252.93 620.75,256.38 621.2,257.8 C621.65,259.22 622.15,260 622.6,260 C623.05,260 623.45,259.37 623.9,257.8 C624.35,256.23 624.85,252.63 625.3,250.6 C625.75,248.57 626.15,246.2 626.6,245.6 C627.05,245 627.55,245.87 628,247 C628.45,248.13 628.85,251.13 629.3,252.4 C629.75,253.67 630.25,254.38 630.7,254.6 C631.15,254.82 631.55,254.03 632,253.7 C632.45,253.37 632.95,252.52 633.4,252.6 C633.85,252.68 634.25,253.33 634.7,254.2 C635.15,255.07 635.65,256.78 636.1,257.8 C636.55,258.82 636.95,259.73 637.4,260.3 C637.85,260.87 638.28,260.98 638.8,261.2 C639.32,261.42 620.48,261.53 640.5,261.6 C660.52,261.67 739.17,261.6 758.9,261.6" stroke="#2c3e50" stroke-width="1.5" fill="none" stroke-linejoin="round" clip-path="url(#c17)"/>
<path d="M595,261.7 L672.5,261.7 L672.6,261.7 L672.7,261.7 L672.8,261.7 L672.9,261.7 L673,261.7 L673.1,261.58 L673.2,261.44 L673.3,261.3 L673.4,261.14 L673.5,260.98 L673.6,260.8 L673.7,260.6 L673.8,260.39 L673.9,260.16 L674,259.91 L674.1,259.64 L674.2,259.34 L674.3,259.01 L674.4,258.66 L674.5,258.26 L674.6,257.83 L674.7,257.35 L674.8,256.82 L674.9,256.22 L675,255.56 L675.1,254.83 L675.2,254.01 L675.3,253.08 L675.4,252.05 L675.5,250.89 L675.6,249.58 L675.7,248.1 L675.8,246.45 L675.9,244.59 L676,242.53 L676.1,240.25 L676.2,237.76 L676.3,235.09 L676.4,232.3 L676.5,229.49 L676.6,226.79 L676.7,224.39 L676.8,222.47 L676.9,221.23 L677,220.8 L677.1,221.23 L677.2,222.47 L677.3,224.39 L677.4,226.79 L677.5,229.49 L677.6,232.3 L677.7,235.09 L677.8,237.76 L677.9,240.25 L678,242.53 L678.1,244.59 L678.2,246.45 L678.3,248.1 L678.4,249.58 L678.5,250.89 L678.6,252.05 L678.7,253.08 L678.8,254.01 L678.9,254.83 L679,255.57 L679.1,256.22 L679.2,256.82 L679.3,257.35 L679.4,257.83 L679.5,258.26 L679.6,258.66 L679.7,259.01 L679.8,259.34 L679.9,259.64 L680,259.91 L680.1,260.16 L680.2,260.39 L680.3,260.6 L680.4,260.8 L680.5,260.98 L680.6,261.14 L680.7,261.3 L680.8,261.44 L680.9,261.58 L681,261.7 L681.1,261.7 L681.2,261.7 L681.3,261.7 L681.4,261.7 L681.5,261.7 L758.9,261.7" stroke="#6b8e23" stroke-width="1.5" fill="none" clip-path="url(#c17)"/>
<path d="M601.16,263.1v-2M601.16,205.8v2M607.48,263.1v-2M607.48,205.8v2M620.12,263.1v-2M620.12,205.8v2M626.44,263.1v-2M626.44,205.8v2M632.76,263.1v-2M632.76,205.8v2M639.08,263.1v-2M639.08,205.8v2M651.72,263.1v-2M651.72,205.8v2M658.04,263.1v-2M658.04,205.8v2M664.36,263.1v-2M664.36,205.8v2M670.68,263.1v-2M670.68,205.8v2M683.32,263.1v-2M683.32,205.8v2M689.64,263.1v-2M689.64,205.8v2M695.96,263.1v-2M695.96,205.8v2M702.28,263.1v-2M702.28,205.8v2M714.92,263.1v-2M714.92,205.8v2M721.24,263.1v-2M721.24,205.8v2M727.56,263.1v-2M727.56,205.8v2M733.88,263.1v-2M733.88,205.8v2M746.52,263.1v-2M746.52,205.8v2M752.84,263.1v-2M752.84,205.8v2M595,255.56h2M758.9,255.56h-2M595,249.42h2M758.9,249.42h-2M595,243.28h2M758.9,243.28h-2M595,237.14h2M758.9,237.14h-2M595,224.86h2M758.9,224.86h-2M595,218.72h2M758.9,218.72h-2M595,212.58h2M758.9,212.58h-2M595,206.44h2M758.9,206.44h-2" stroke="#5a5a5a" stroke-width="0.6" fill="none" opacity="0.8"/>
<path d="M613.8,263.1v-3.5M613.8,205.8v3.5M645.4,263.1v-3.5M645.4,205.8v3.5M677,263.1v-3.5M677,205.8v3.5M708.6,263.1v-3.5M708.6,205.8v3.5M740.2,263.1v-3.5M740.2,205.8v3.5M595,261.7h3.5M758.9,261.7h-3.5M595,231h3.5M758.9,231h-3.5" stroke="#5a5a5a" stroke-width="0.8" fill="none"/>
<rect x="595" y="205.8" width="163.9" height="57.3" fill="none" stroke="#a0a0a0" stroke-width="1"/>
<text x="574.89" y="235.07" font-size="10.1" textLength="18.09" lengthAdjust="spacingAndGlyphs" fill="#000">100</text>
<text x="587.26" y="265.77" font-size="10.1" textLength="5.7" lengthAdjust="spacingAndGlyphs" fill="#000">0</text>
<text x="599.37" y="273.27" font-size="10.1" textLength="29.13" lengthAdjust="spacingAndGlyphs" fill="#000">−0.50</text>
<text x="630.97" y="273.27" font-size="10.1" textLength="28.95" lengthAdjust="spacingAndGlyphs" fill="#000">−0.25</text>
<text x="666.39" y="273.27" font-size="10.1" textLength="21.21" lengthAdjust="spacingAndGlyphs" fill="#000">0.00</text>
<text x="698" y="273.27" font-size="10.1" textLength="21.03" lengthAdjust="spacingAndGlyphs" fill="#000">0.25</text>
<text x="729.59" y="273.27" font-size="10.1" textLength="21.21" lengthAdjust="spacingAndGlyphs" fill="#000">0.50</text>
<path d="M460.6,216.2V219.4M490,216.2V219.4" stroke="#333" stroke-width="1.0" fill="none"/>
<path d="M462.3,217.8H488.3" stroke="#b0b0b0" stroke-width="1.4" fill="none"/>
<path d="M467.1,215.1L462.3,217.8L467.1,220.5M483.5,215.1L488.3,217.8L483.5,220.5" stroke="#7a7a7a" stroke-width="0.9" fill="none"/>
<text x="462.33" y="215.72" font-size="10.8" textLength="29.81" lengthAdjust="spacingAndGlyphs" fill="#000">0.234</text>
<path d="M627,216.2V219.4M677,216.2V219.4" stroke="#333" stroke-width="1.0" fill="none"/>
<path d="M628.7,217.8H675.3" stroke="#b0b0b0" stroke-width="1.4" fill="none"/>
<path d="M633.5,215.1L628.7,217.8L633.5,220.5M670.5,215.1L675.3,217.8L670.5,220.5" stroke="#7a7a7a" stroke-width="0.9" fill="none"/>
<text x="639.02" y="215.72" font-size="10.8" textLength="30.87" lengthAdjust="spacingAndGlyphs" fill="#000">0.399</text>
<text x="494.0" y="231.1" font-size="13.2" textLength="74" lengthAdjust="spacingAndGlyphs">g-mode:<tspan font-family="Liberation Serif" font-style="italic">ℓ</tspan> = 2</text>
<text x="680.6" y="231.1" font-size="13.2" textLength="75" lengthAdjust="spacingAndGlyphs">p-mode:<tspan font-family="Liberation Serif" font-style="italic">ℓ</tspan> = 1</text>
<text x="24.48" y="285.5" font-size="12.2" textLength="16.25" lengthAdjust="spacingAndGlyphs" fill="#000">(a)</text>
<text x="399.78" y="285.5" font-size="12.2" textLength="16.14" lengthAdjust="spacingAndGlyphs" fill="#000">(b)</text>
<text x="586.66" y="285.5" font-size="12.2" textLength="15.78" lengthAdjust="spacingAndGlyphs" fill="#000">(c)</text>
<text x="96.81" y="285.5" font-size="12.1" textLength="105.93" lengthAdjust="spacingAndGlyphs" fill="#000">ΔFrequency [μHz]</text>
<text x="260.91" y="285.5" font-size="12.1" textLength="105.02" lengthAdjust="spacingAndGlyphs" fill="#000">ΔFrequency [μHz]</text>
<text transform="translate(10.2,98.23) rotate(-90)" x="0" y="0" font-size="11.6" textLength="98.2" lengthAdjust="spacingAndGlyphs">Amplitude [ppm]</text>
<text transform="translate(10.2,272.7) rotate(-90)" x="0" y="0" font-size="11.6" textLength="108.03" lengthAdjust="spacingAndGlyphs">Possibility Density</text></svg>
</body></html>
